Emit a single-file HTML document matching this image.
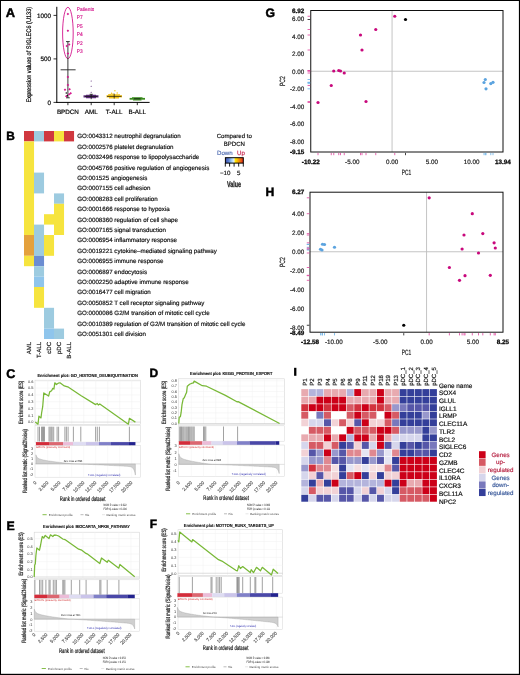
<!DOCTYPE html>
<html><head><meta charset="utf-8"><title>Figure</title>
<style>html,body{margin:0;padding:0;background:#fff;overflow:hidden}svg{display:block}
text{font-family:"Liberation Sans", sans-serif;text-rendering:geometricPrecision}svg{will-change:transform}</style></head>
<body><svg width="520" height="675" viewBox="0 0 520 675" font-family="Liberation Sans, sans-serif">
<rect x="0" y="0" width="520" height="675" fill="#000"/>
<rect x="1" y="1" width="517.9" height="672.8" fill="#fff"/>
<text x="5.80" y="16.60" font-size="12.9" text-anchor="start" fill="#000" font-weight="bold" stroke="#000" stroke-width="0.45">A</text>
<line x1="56.8" y1="6.8" x2="56.8" y2="102.9" stroke="#000" stroke-width="1"/>
<line x1="56.3" y1="102.4" x2="149.6" y2="102.4" stroke="#000" stroke-width="1"/>
<line x1="53.5" y1="15.40" x2="56.8" y2="15.40" stroke="#000" stroke-width="0.8"/>
<text x="51.00" y="17.60" font-size="6.3" text-anchor="end" fill="#000" stroke="#000" stroke-width="0.176">1000</text>
<line x1="53.5" y1="58.90" x2="56.8" y2="58.90" stroke="#000" stroke-width="0.8"/>
<text x="51.00" y="61.10" font-size="6.3" text-anchor="end" fill="#000" stroke="#000" stroke-width="0.176">500</text>
<line x1="53.5" y1="102.40" x2="56.8" y2="102.40" stroke="#000" stroke-width="0.8"/>
<text x="51.00" y="104.60" font-size="6.3" text-anchor="end" fill="#000" stroke="#000" stroke-width="0.176">0</text>
<line x1="67.9" y1="102.4" x2="67.9" y2="105.2" stroke="#000" stroke-width="0.8"/>
<line x1="91.2" y1="102.4" x2="91.2" y2="105.2" stroke="#000" stroke-width="0.8"/>
<line x1="114.2" y1="102.4" x2="114.2" y2="105.2" stroke="#000" stroke-width="0.8"/>
<line x1="137.3" y1="102.4" x2="137.3" y2="105.2" stroke="#000" stroke-width="0.8"/>
<text x="67.90" y="113.60" font-size="6.3" text-anchor="middle" fill="#000" stroke="#000" stroke-width="0.176">BPDCN</text>
<text x="91.20" y="113.60" font-size="6.3" text-anchor="middle" fill="#000" stroke="#000" stroke-width="0.176">AML</text>
<text x="114.20" y="113.60" font-size="6.3" text-anchor="middle" fill="#000" stroke="#000" stroke-width="0.176">T-ALL</text>
<text x="137.30" y="113.60" font-size="6.3" text-anchor="middle" fill="#000" stroke="#000" stroke-width="0.176">B-ALL</text>
<text x="30.80" y="54.60" font-size="6.6" text-anchor="middle" fill="#000" stroke="#000" stroke-width="0.185" transform="rotate(-90 30.80 54.60)" textLength="95.6" lengthAdjust="spacingAndGlyphs">Expression values of SIGLEC6 (U133)</text>
<ellipse cx="67.9" cy="33.0" rx="5.3" ry="25.7" fill="none" stroke="#d4148c" stroke-width="0.9"/>
<line x1="67.9" y1="41.6" x2="67.9" y2="97.8" stroke="#222" stroke-width="0.9"/>
<line x1="66" y1="41.6" x2="69.8" y2="41.6" stroke="#222" stroke-width="0.9"/>
<line x1="66" y1="97.8" x2="69.8" y2="97.8" stroke="#222" stroke-width="0.9"/>
<line x1="60.6" y1="69.8" x2="75.6" y2="69.8" stroke="#222" stroke-width="0.9"/>
<rect x="67.00" y="13.00" width="1.8" height="1.8" fill="#d4148c" transform="rotate(45 67.9 13.9)"/>
<rect x="67.00" y="29.80" width="1.8" height="1.8" fill="#d4148c" transform="rotate(45 67.9 30.7)"/>
<rect x="65.90" y="45.10" width="1.8" height="1.8" fill="#d4148c" transform="rotate(45 66.8 46)"/>
<rect x="68.30" y="43.50" width="1.8" height="1.8" fill="#d4148c" transform="rotate(45 69.2 44.4)"/>
<rect x="67.00" y="52.60" width="1.8" height="1.8" fill="#d4148c" transform="rotate(45 67.9 53.5)"/>
<rect x="67.00" y="76.10" width="1.8" height="1.8" fill="#d4148c" transform="rotate(45 67.9 77)"/>
<rect x="67.00" y="84.20" width="1.8" height="1.8" fill="#d4148c" transform="rotate(45 67.9 85.1)"/>
<rect x="64.10" y="88.80" width="1.8" height="1.8" fill="#d4148c" transform="rotate(45 65 89.7)"/>
<rect x="68.70" y="88.30" width="1.8" height="1.8" fill="#d4148c" transform="rotate(45 69.6 89.2)"/>
<rect x="69.80" y="92.40" width="1.8" height="1.8" fill="#d4148c" transform="rotate(45 70.7 93.3)"/>
<rect x="68.30" y="93.30" width="1.8" height="1.8" fill="#d4148c" transform="rotate(45 69.2 94.2)"/>
<rect x="65.40" y="95.30" width="1.8" height="1.8" fill="#d4148c" transform="rotate(45 66.3 96.2)"/>
<circle cx="66.3" cy="93.0" r="0.8" fill="#111"/>
<circle cx="67.4" cy="95.6" r="0.8" fill="#111"/>
<text x="76.80" y="10.80" font-size="5.3" text-anchor="start" fill="#d4148c" stroke="#d4148c" stroke-width="0.148" textLength="17.43" lengthAdjust="spacingAndGlyphs">Patients</text>
<text x="76.80" y="19.25" font-size="5.3" text-anchor="start" fill="#d4148c" stroke="#d4148c" stroke-width="0.148" textLength="5.9" lengthAdjust="spacingAndGlyphs">P7</text>
<text x="76.80" y="27.70" font-size="5.3" text-anchor="start" fill="#d4148c" stroke="#d4148c" stroke-width="0.148" textLength="5.9" lengthAdjust="spacingAndGlyphs">P5</text>
<text x="76.80" y="36.15" font-size="5.3" text-anchor="start" fill="#d4148c" stroke="#d4148c" stroke-width="0.148" textLength="5.9" lengthAdjust="spacingAndGlyphs">P4</text>
<text x="76.80" y="44.60" font-size="5.3" text-anchor="start" fill="#d4148c" stroke="#d4148c" stroke-width="0.148" textLength="5.9" lengthAdjust="spacingAndGlyphs">P2</text>
<text x="76.80" y="53.05" font-size="5.3" text-anchor="start" fill="#d4148c" stroke="#d4148c" stroke-width="0.148" textLength="5.9" lengthAdjust="spacingAndGlyphs">P3</text>
<circle cx="91.2" cy="81.0" r="0.55" fill="#5b2a78"/>
<circle cx="91.2" cy="86.2" r="0.55" fill="#5b2a78"/>
<circle cx="91.2" cy="92.2" r="0.55" fill="#5b2a78"/>
<path d="M83.5 96.4 L98.5 96.4" stroke="#5b2a78" stroke-width="2.2"/>
<path d="M86 95.3 L96 95.3 M86 97.6 L96 97.6" stroke="#5b2a78" stroke-width="1.2"/>
<line x1="91.2" y1="94.3" x2="91.2" y2="99.2" stroke="#111" stroke-width="0.8"/>
<line x1="89.6" y1="94.3" x2="92.8" y2="94.3" stroke="#111" stroke-width="0.8"/>
<line x1="85" y1="96.4" x2="97.5" y2="96.4" stroke="#111" stroke-width="0.8"/>
<path d="M106.5 96.3 L122 96.3" stroke="#f2c21a" stroke-width="2.2"/>
<path d="M108 95 L120 95 M109 97.8 L119 97.8" stroke="#f2c21a" stroke-width="1.4"/>
<circle cx="114.9" cy="90.8" r="0.7" fill="#f2c21a"/>
<circle cx="111.5" cy="93.3" r="0.7" fill="#f2c21a"/>
<circle cx="117.2" cy="93.0" r="0.7" fill="#f2c21a"/>
<circle cx="113" cy="94" r="0.7" fill="#f2c21a"/>
<circle cx="110" cy="94.5" r="0.7" fill="#f2c21a"/>
<line x1="107" y1="96.4" x2="121.5" y2="96.4" stroke="#111" stroke-width="0.7"/>
<line x1="114.2" y1="93.6" x2="114.2" y2="98.6" stroke="#111" stroke-width="0.7"/>
<path d="M129.6 98.8 L145 98.8" stroke="#3b8c1e" stroke-width="1.8"/>
<path d="M132 97.8 L142.5 97.8 M133 99.8 L141.5 99.8" stroke="#3b8c1e" stroke-width="1.2"/>
<line x1="134" y1="98.8" x2="140.5" y2="98.8" stroke="#111" stroke-width="0.8"/>
<text x="6.30" y="140.10" font-size="11.9" text-anchor="start" fill="#000" font-weight="bold" stroke="#000" stroke-width="0.45">B</text>
<rect x="24.00" y="131.00" width="10.05" height="10.40" fill="#d0383f"/>
<rect x="24.00" y="141.40" width="10.05" height="93.60" fill="#f6e43e"/>
<rect x="24.00" y="235.00" width="10.05" height="20.80" fill="#e4a13c"/>
<rect x="24.00" y="255.80" width="10.05" height="10.40" fill="#f6e43e"/>
<rect x="34.00" y="131.00" width="10.05" height="10.40" fill="#9dcbe0"/>
<rect x="34.00" y="172.60" width="10.05" height="20.80" fill="#9dcbe0"/>
<rect x="34.00" y="224.60" width="10.05" height="31.20" fill="#9dcbe0"/>
<rect x="34.00" y="255.80" width="10.05" height="10.40" fill="#6b8dd2"/>
<rect x="34.00" y="266.20" width="10.05" height="10.40" fill="#9dcbe0"/>
<rect x="34.00" y="276.60" width="10.05" height="10.40" fill="#8fc5ec"/>
<rect x="34.00" y="287.00" width="10.05" height="20.80" fill="#f6e43e"/>
<rect x="44.00" y="131.00" width="10.05" height="10.40" fill="#d0383f"/>
<rect x="44.00" y="214.20" width="10.05" height="10.40" fill="#f6e43e"/>
<rect x="44.00" y="235.00" width="10.05" height="20.80" fill="#f6e43e"/>
<rect x="44.00" y="307.80" width="10.05" height="20.80" fill="#9dcbe0"/>
<rect x="44.00" y="328.60" width="10.05" height="10.40" fill="#8fc5ec"/>
<rect x="54.00" y="131.00" width="10.05" height="10.40" fill="#f6e43e"/>
<rect x="54.00" y="193.40" width="10.05" height="10.40" fill="#9dcbe0"/>
<rect x="54.00" y="203.80" width="10.05" height="31.20" fill="#f6e43e"/>
<rect x="54.00" y="328.60" width="10.05" height="10.40" fill="#9dcbe0"/>
<rect x="64.00" y="131.00" width="10.05" height="10.40" fill="#d0383f"/>
<text x="77.20" y="138.40" font-size="6.2" text-anchor="start" fill="#111" stroke="#111" stroke-width="0.174">GO:0043312 neutrophil degranulation</text>
<text x="77.20" y="148.80" font-size="6.2" text-anchor="start" fill="#111" stroke="#111" stroke-width="0.174">GO:0002576 platelet degranulation</text>
<text x="77.20" y="159.20" font-size="6.2" text-anchor="start" fill="#111" stroke="#111" stroke-width="0.174">GO:0032496 response to lipopolysaccharide</text>
<text x="77.20" y="169.60" font-size="6.2" text-anchor="start" fill="#111" stroke="#111" stroke-width="0.174">GO:0045766 positive regulation of angiogenesis</text>
<text x="77.20" y="180.00" font-size="6.2" text-anchor="start" fill="#111" stroke="#111" stroke-width="0.174">GO:001525 angiogenesis</text>
<text x="77.20" y="190.40" font-size="6.2" text-anchor="start" fill="#111" stroke="#111" stroke-width="0.174">GO:0007155 cell adhesion</text>
<text x="77.20" y="200.80" font-size="6.2" text-anchor="start" fill="#111" stroke="#111" stroke-width="0.174">GO:0008283 cell proliferation</text>
<text x="77.20" y="211.20" font-size="6.2" text-anchor="start" fill="#111" stroke="#111" stroke-width="0.174">GO:0001666 response to hypoxia</text>
<text x="77.20" y="221.60" font-size="6.2" text-anchor="start" fill="#111" stroke="#111" stroke-width="0.174">GO:0008360 regulation of cell shape</text>
<text x="77.20" y="232.00" font-size="6.2" text-anchor="start" fill="#111" stroke="#111" stroke-width="0.174">GO:0007165 signal transduction</text>
<text x="77.20" y="242.40" font-size="6.2" text-anchor="start" fill="#111" stroke="#111" stroke-width="0.174">GO:0006954 inflammatory response</text>
<text x="77.20" y="252.80" font-size="6.2" text-anchor="start" fill="#111" stroke="#111" stroke-width="0.174">GO:0019221 cytokine–mediated signaling pathway</text>
<text x="77.20" y="263.20" font-size="6.2" text-anchor="start" fill="#111" stroke="#111" stroke-width="0.174">GO:0006955 immune response</text>
<text x="77.20" y="273.60" font-size="6.2" text-anchor="start" fill="#111" stroke="#111" stroke-width="0.174">GO:0006897 endocytosis</text>
<text x="77.20" y="284.00" font-size="6.2" text-anchor="start" fill="#111" stroke="#111" stroke-width="0.174">GO:0002250 adaptive immune response</text>
<text x="77.20" y="294.40" font-size="6.2" text-anchor="start" fill="#111" stroke="#111" stroke-width="0.174">GO:0016477 cell migration</text>
<text x="77.20" y="304.80" font-size="6.2" text-anchor="start" fill="#111" stroke="#111" stroke-width="0.174">GO:0050852 T cell receptor signaling pathway</text>
<text x="77.20" y="315.20" font-size="6.2" text-anchor="start" fill="#111" stroke="#111" stroke-width="0.174">GO:0000086 G2/M transition of mitotic cell cycle</text>
<text x="77.20" y="325.60" font-size="6.2" text-anchor="start" fill="#111" stroke="#111" stroke-width="0.174">GO:0010389 regulation of G2/M transition of mitotic cell cycle</text>
<text x="77.20" y="336.00" font-size="6.2" text-anchor="start" fill="#111" stroke="#111" stroke-width="0.174">GO:0051301 cell division</text>
<text x="31.00" y="342.00" font-size="6.0" text-anchor="end" fill="#111" stroke="#111" stroke-width="0.168" transform="rotate(-90 31.00 342.00)">AML</text>
<text x="41.00" y="342.00" font-size="6.0" text-anchor="end" fill="#111" stroke="#111" stroke-width="0.168" transform="rotate(-90 41.00 342.00)">T-ALL</text>
<text x="51.00" y="342.00" font-size="6.0" text-anchor="end" fill="#111" stroke="#111" stroke-width="0.168" transform="rotate(-90 51.00 342.00)">cDC</text>
<text x="61.00" y="342.00" font-size="6.0" text-anchor="end" fill="#111" stroke="#111" stroke-width="0.168" transform="rotate(-90 61.00 342.00)">pDC</text>
<text x="71.00" y="342.00" font-size="6.0" text-anchor="end" fill="#111" stroke="#111" stroke-width="0.168" transform="rotate(-90 71.00 342.00)">B-ALL</text>
<text x="234.30" y="138.30" font-size="6.1" text-anchor="middle" fill="#111" stroke="#111" stroke-width="0.171">Compared to</text>
<text x="234.30" y="145.90" font-size="6.1" text-anchor="middle" fill="#111" stroke="#111" stroke-width="0.171">BPDCN</text>
<text x="217.00" y="154.50" font-size="6.1" text-anchor="start" fill="#5470b4" stroke="#5470b4" stroke-width="0.171">Down</text>
<text x="237.00" y="154.50" font-size="6.1" text-anchor="start" fill="#c82850" stroke="#c82850" stroke-width="0.171">Up</text>
<defs><linearGradient id="cbg" x1="0" x2="1" y1="0" y2="0"><stop offset="0" stop-color="#3a48a8"/><stop offset="0.18" stop-color="#5a80d0"/><stop offset="0.35" stop-color="#9fd0f4"/><stop offset="0.48" stop-color="#e8eef4"/><stop offset="0.55" stop-color="#ffe800"/><stop offset="0.72" stop-color="#f4a800"/><stop offset="0.9" stop-color="#e85018"/><stop offset="1" stop-color="#d02010"/></linearGradient></defs>
<rect x="225.4" y="157.7" width="17.9" height="5.4" fill="url(#cbg)" stroke="#000" stroke-width="1"/>
<line x1="225.3" y1="163" x2="225.3" y2="166.6" stroke="#000" stroke-width="0.9"/>
<line x1="229.6" y1="163" x2="229.6" y2="166.6" stroke="#000" stroke-width="0.9"/>
<line x1="234.1" y1="163" x2="234.1" y2="166.6" stroke="#000" stroke-width="0.9"/>
<line x1="238.7" y1="163" x2="238.7" y2="166.6" stroke="#000" stroke-width="0.9"/>
<line x1="243.3" y1="163" x2="243.3" y2="166.6" stroke="#000" stroke-width="0.9"/>
<text x="225.20" y="175.20" font-size="6.2" text-anchor="middle" fill="#111" stroke="#111" stroke-width="0.174">−10</text>
<text x="238.70" y="175.20" font-size="6.2" text-anchor="middle" fill="#111" stroke="#111" stroke-width="0.174">5</text>
<text x="234.00" y="186.80" font-size="8.3" text-anchor="middle" fill="#222" font-weight="bold" textLength="14" lengthAdjust="spacingAndGlyphs" stroke="#222" stroke-width="0.3">Value</text>
<text x="265.60" y="17.00" font-size="12.2" text-anchor="start" fill="#000" font-weight="bold" stroke="#000" stroke-width="0.45">G</text>
<line x1="310.75" y1="71.25" x2="503" y2="71.25" stroke="#bdbdbd" stroke-width="0.9"/>
<line x1="392.07" y1="10.5" x2="392.07" y2="152" stroke="#bdbdbd" stroke-width="0.9"/>
<rect x="310.75" y="10.5" width="192.25" height="141.5" fill="none" stroke="#111" stroke-width="1"/>
<text x="304.30" y="13.00" font-size="6.3" text-anchor="end" fill="#1a1a1a" font-weight="bold" stroke="#000" stroke-width="0.3">6.92</text>
<text x="304.30" y="21.05" font-size="6.3" text-anchor="end" fill="#1a1a1a" stroke="#1a1a1a" stroke-width="0.176">6.00</text>
<text x="304.30" y="38.55" font-size="6.3" text-anchor="end" fill="#1a1a1a" stroke="#1a1a1a" stroke-width="0.176">4.00</text>
<text x="304.30" y="56.05" font-size="6.3" text-anchor="end" fill="#1a1a1a" stroke="#1a1a1a" stroke-width="0.176">2.00</text>
<text x="304.30" y="73.55" font-size="6.3" text-anchor="end" fill="#1a1a1a" stroke="#1a1a1a" stroke-width="0.176">0.00</text>
<text x="304.30" y="91.05" font-size="6.3" text-anchor="end" fill="#1a1a1a" stroke="#1a1a1a" stroke-width="0.176">-2.00</text>
<text x="304.30" y="108.55" font-size="6.3" text-anchor="end" fill="#1a1a1a" stroke="#1a1a1a" stroke-width="0.176">-4.00</text>
<text x="304.30" y="126.05" font-size="6.3" text-anchor="end" fill="#1a1a1a" stroke="#1a1a1a" stroke-width="0.176">-6.00</text>
<text x="304.30" y="143.55" font-size="6.3" text-anchor="end" fill="#1a1a1a" stroke="#1a1a1a" stroke-width="0.176">-8.00</text>
<text x="304.30" y="153.61" font-size="6.3" text-anchor="end" fill="#1a1a1a" font-weight="bold" stroke="#000" stroke-width="0.3">-9.15</text>
<text x="310.75" y="163.80" font-size="6.3" text-anchor="middle" fill="#1a1a1a" font-weight="bold" stroke="#000" stroke-width="0.3">-10.22</text>
<text x="352.29" y="163.80" font-size="6.3" text-anchor="middle" fill="#1a1a1a" stroke="#1a1a1a" stroke-width="0.176">-5.00</text>
<text x="392.07" y="163.80" font-size="6.3" text-anchor="middle" fill="#1a1a1a" stroke="#1a1a1a" stroke-width="0.176">0.00</text>
<text x="431.86" y="163.80" font-size="6.3" text-anchor="middle" fill="#1a1a1a" stroke="#1a1a1a" stroke-width="0.176">5.00</text>
<text x="471.64" y="163.80" font-size="6.3" text-anchor="middle" fill="#1a1a1a" stroke="#1a1a1a" stroke-width="0.176">10.00</text>
<text x="502.99" y="163.80" font-size="6.3" text-anchor="middle" fill="#1a1a1a" font-weight="bold" stroke="#000" stroke-width="0.3">13.94</text>
<line x1="375.75" y1="152.90" x2="375.75" y2="155.20" stroke="#e0409c" stroke-width="0.8"/>
<line x1="307.55" y1="29.50" x2="310.15" y2="29.50" stroke="#e0409c" stroke-width="0.8"/>
<line x1="360.50" y1="152.90" x2="360.50" y2="155.20" stroke="#e0409c" stroke-width="0.8"/>
<line x1="307.55" y1="35.00" x2="310.15" y2="35.00" stroke="#e0409c" stroke-width="0.8"/>
<line x1="362.00" y1="152.90" x2="362.00" y2="155.20" stroke="#e0409c" stroke-width="0.8"/>
<line x1="307.55" y1="50.00" x2="310.15" y2="50.00" stroke="#e0409c" stroke-width="0.8"/>
<line x1="333.75" y1="152.90" x2="333.75" y2="155.20" stroke="#e0409c" stroke-width="0.8"/>
<line x1="307.55" y1="71.00" x2="310.15" y2="71.00" stroke="#e0409c" stroke-width="0.8"/>
<line x1="338.75" y1="152.90" x2="338.75" y2="155.20" stroke="#e0409c" stroke-width="0.8"/>
<line x1="307.55" y1="70.50" x2="310.15" y2="70.50" stroke="#e0409c" stroke-width="0.8"/>
<line x1="340.50" y1="152.90" x2="340.50" y2="155.20" stroke="#e0409c" stroke-width="0.8"/>
<line x1="307.55" y1="71.00" x2="310.15" y2="71.00" stroke="#e0409c" stroke-width="0.8"/>
<line x1="344.25" y1="152.90" x2="344.25" y2="155.20" stroke="#e0409c" stroke-width="0.8"/>
<line x1="307.55" y1="73.00" x2="310.15" y2="73.00" stroke="#e0409c" stroke-width="0.8"/>
<line x1="331.25" y1="152.90" x2="331.25" y2="155.20" stroke="#e0409c" stroke-width="0.8"/>
<line x1="307.55" y1="85.50" x2="310.15" y2="85.50" stroke="#e0409c" stroke-width="0.8"/>
<line x1="318.00" y1="152.90" x2="318.00" y2="155.20" stroke="#e0409c" stroke-width="0.8"/>
<line x1="307.55" y1="102.50" x2="310.15" y2="102.50" stroke="#e0409c" stroke-width="0.8"/>
<line x1="366.00" y1="152.90" x2="366.00" y2="155.20" stroke="#e0409c" stroke-width="0.8"/>
<line x1="307.55" y1="101.50" x2="310.15" y2="101.50" stroke="#e0409c" stroke-width="0.8"/>
<line x1="394.75" y1="152.90" x2="394.75" y2="155.20" stroke="#e0409c" stroke-width="0.8"/>
<line x1="307.55" y1="16.25" x2="310.15" y2="16.25" stroke="#e0409c" stroke-width="0.8"/>
<line x1="405.50" y1="152.90" x2="405.50" y2="155.20" stroke="#111" stroke-width="0.8"/>
<line x1="307.55" y1="19.50" x2="310.15" y2="19.50" stroke="#111" stroke-width="0.8"/>
<line x1="485.30" y1="152.90" x2="485.30" y2="155.20" stroke="#64aee6" stroke-width="0.8"/>
<line x1="307.55" y1="79.50" x2="310.15" y2="79.50" stroke="#64aee6" stroke-width="0.8"/>
<line x1="484.00" y1="152.90" x2="484.00" y2="155.20" stroke="#64aee6" stroke-width="0.8"/>
<line x1="307.55" y1="82.50" x2="310.15" y2="82.50" stroke="#64aee6" stroke-width="0.8"/>
<line x1="490.80" y1="152.90" x2="490.80" y2="155.20" stroke="#64aee6" stroke-width="0.8"/>
<line x1="307.55" y1="83.60" x2="310.15" y2="83.60" stroke="#64aee6" stroke-width="0.8"/>
<line x1="493.00" y1="152.90" x2="493.00" y2="155.20" stroke="#64aee6" stroke-width="0.8"/>
<line x1="307.55" y1="82.30" x2="310.15" y2="82.30" stroke="#64aee6" stroke-width="0.8"/>
<line x1="486.00" y1="152.90" x2="486.00" y2="155.20" stroke="#64aee6" stroke-width="0.8"/>
<line x1="307.55" y1="88.80" x2="310.15" y2="88.80" stroke="#64aee6" stroke-width="0.8"/>
<circle cx="375.75" cy="29.50" r="1.6" fill="#c8087c"/>
<circle cx="360.50" cy="35.00" r="1.6" fill="#c8087c"/>
<circle cx="362.00" cy="50.00" r="1.6" fill="#c8087c"/>
<circle cx="333.75" cy="71.00" r="1.6" fill="#c8087c"/>
<circle cx="338.75" cy="70.50" r="1.6" fill="#c8087c"/>
<circle cx="340.50" cy="71.00" r="1.6" fill="#c8087c"/>
<circle cx="344.25" cy="73.00" r="1.6" fill="#c8087c"/>
<circle cx="331.25" cy="85.50" r="1.6" fill="#c8087c"/>
<circle cx="318.00" cy="102.50" r="1.6" fill="#c8087c"/>
<circle cx="366.00" cy="101.50" r="1.6" fill="#c8087c"/>
<circle cx="394.75" cy="16.25" r="1.6" fill="#c8087c"/>
<circle cx="405.50" cy="19.50" r="1.6" fill="#000"/>
<circle cx="485.30" cy="79.50" r="1.6" fill="#5ba3df"/>
<circle cx="484.00" cy="82.50" r="1.6" fill="#5ba3df"/>
<circle cx="490.80" cy="83.60" r="1.6" fill="#5ba3df"/>
<circle cx="493.00" cy="82.30" r="1.6" fill="#5ba3df"/>
<circle cx="486.00" cy="88.80" r="1.6" fill="#5ba3df"/>
<text x="285.20" y="81.20" font-size="7.6" text-anchor="middle" fill="#1a1a1a" stroke="#1a1a1a" stroke-width="0.213" transform="rotate(-90 285.20 81.20)" textLength="9.8" lengthAdjust="spacingAndGlyphs">PC2</text>
<text x="406.40" y="175.10" font-size="7.6" text-anchor="middle" fill="#1a1a1a" stroke="#1a1a1a" stroke-width="0.213" textLength="9.5" lengthAdjust="spacingAndGlyphs">PC1</text>
<text x="265.60" y="196.30" font-size="12.2" text-anchor="start" fill="#000" font-weight="bold" stroke="#000" stroke-width="0.45">H</text>
<line x1="310" y1="251.75" x2="503" y2="251.75" stroke="#bdbdbd" stroke-width="0.9"/>
<line x1="426.55" y1="192.2" x2="426.55" y2="332.2" stroke="#bdbdbd" stroke-width="0.9"/>
<rect x="310" y="192.2" width="193" height="140.0" fill="none" stroke="#111" stroke-width="1"/>
<text x="304.30" y="194.49" font-size="6.3" text-anchor="end" fill="#1a1a1a" font-weight="bold" stroke="#000" stroke-width="0.3">6.27</text>
<text x="304.30" y="216.05" font-size="6.3" text-anchor="end" fill="#1a1a1a" stroke="#1a1a1a" stroke-width="0.176">4.00</text>
<text x="304.30" y="235.05" font-size="6.3" text-anchor="end" fill="#1a1a1a" stroke="#1a1a1a" stroke-width="0.176">2.00</text>
<text x="304.30" y="254.05" font-size="6.3" text-anchor="end" fill="#1a1a1a" stroke="#1a1a1a" stroke-width="0.176">0.00</text>
<text x="304.30" y="273.05" font-size="6.3" text-anchor="end" fill="#1a1a1a" stroke="#1a1a1a" stroke-width="0.176">-2.00</text>
<text x="304.30" y="292.05" font-size="6.3" text-anchor="end" fill="#1a1a1a" stroke="#1a1a1a" stroke-width="0.176">-4.00</text>
<text x="304.30" y="311.05" font-size="6.3" text-anchor="end" fill="#1a1a1a" stroke="#1a1a1a" stroke-width="0.176">-6.00</text>
<text x="304.30" y="330.05" font-size="6.3" text-anchor="end" fill="#1a1a1a" stroke="#1a1a1a" stroke-width="0.176">-8.00</text>
<text x="304.30" y="334.70" font-size="6.3" text-anchor="end" fill="#1a1a1a" font-weight="bold" stroke="#000" stroke-width="0.3">-8.49</text>
<text x="310.00" y="343.90" font-size="6.3" text-anchor="middle" fill="#1a1a1a" font-weight="bold" stroke="#000" stroke-width="0.3">-12.58</text>
<text x="333.90" y="343.90" font-size="6.3" text-anchor="middle" fill="#1a1a1a" stroke="#1a1a1a" stroke-width="0.176">-10.00</text>
<text x="380.23" y="343.90" font-size="6.3" text-anchor="middle" fill="#1a1a1a" stroke="#1a1a1a" stroke-width="0.176">-5.00</text>
<text x="426.55" y="343.90" font-size="6.3" text-anchor="middle" fill="#1a1a1a" stroke="#1a1a1a" stroke-width="0.176">0.00</text>
<text x="472.88" y="343.90" font-size="6.3" text-anchor="middle" fill="#1a1a1a" stroke="#1a1a1a" stroke-width="0.176">5.00</text>
<text x="502.99" y="343.90" font-size="6.3" text-anchor="middle" fill="#1a1a1a" font-weight="bold" stroke="#000" stroke-width="0.3">8.25</text>
<line x1="322.50" y1="333.10" x2="322.50" y2="335.40" stroke="#64aee6" stroke-width="0.8"/>
<line x1="306.80" y1="244.25" x2="309.40" y2="244.25" stroke="#64aee6" stroke-width="0.8"/>
<line x1="324.50" y1="333.10" x2="324.50" y2="335.40" stroke="#64aee6" stroke-width="0.8"/>
<line x1="306.80" y1="244.50" x2="309.40" y2="244.50" stroke="#64aee6" stroke-width="0.8"/>
<line x1="320.50" y1="333.10" x2="320.50" y2="335.40" stroke="#64aee6" stroke-width="0.8"/>
<line x1="306.80" y1="249.25" x2="309.40" y2="249.25" stroke="#64aee6" stroke-width="0.8"/>
<line x1="322.00" y1="333.10" x2="322.00" y2="335.40" stroke="#64aee6" stroke-width="0.8"/>
<line x1="306.80" y1="250.00" x2="309.40" y2="250.00" stroke="#64aee6" stroke-width="0.8"/>
<line x1="334.50" y1="333.10" x2="334.50" y2="335.40" stroke="#64aee6" stroke-width="0.8"/>
<line x1="306.80" y1="247.25" x2="309.40" y2="247.25" stroke="#64aee6" stroke-width="0.8"/>
<line x1="429.20" y1="333.10" x2="429.20" y2="335.40" stroke="#e0409c" stroke-width="0.8"/>
<line x1="306.80" y1="197.80" x2="309.40" y2="197.80" stroke="#e0409c" stroke-width="0.8"/>
<line x1="472.30" y1="333.10" x2="472.30" y2="335.40" stroke="#e0409c" stroke-width="0.8"/>
<line x1="306.80" y1="213.70" x2="309.40" y2="213.70" stroke="#e0409c" stroke-width="0.8"/>
<line x1="464.00" y1="333.10" x2="464.00" y2="335.40" stroke="#e0409c" stroke-width="0.8"/>
<line x1="306.80" y1="235.00" x2="309.40" y2="235.00" stroke="#e0409c" stroke-width="0.8"/>
<line x1="482.80" y1="333.10" x2="482.80" y2="335.40" stroke="#e0409c" stroke-width="0.8"/>
<line x1="306.80" y1="233.60" x2="309.40" y2="233.60" stroke="#e0409c" stroke-width="0.8"/>
<line x1="494.10" y1="333.10" x2="494.10" y2="335.40" stroke="#e0409c" stroke-width="0.8"/>
<line x1="306.80" y1="242.80" x2="309.40" y2="242.80" stroke="#e0409c" stroke-width="0.8"/>
<line x1="495.30" y1="333.10" x2="495.30" y2="335.40" stroke="#e0409c" stroke-width="0.8"/>
<line x1="306.80" y1="248.00" x2="309.40" y2="248.00" stroke="#e0409c" stroke-width="0.8"/>
<line x1="462.10" y1="333.10" x2="462.10" y2="335.40" stroke="#e0409c" stroke-width="0.8"/>
<line x1="306.80" y1="249.00" x2="309.40" y2="249.00" stroke="#e0409c" stroke-width="0.8"/>
<line x1="478.50" y1="333.10" x2="478.50" y2="335.40" stroke="#e0409c" stroke-width="0.8"/>
<line x1="306.80" y1="253.00" x2="309.40" y2="253.00" stroke="#e0409c" stroke-width="0.8"/>
<line x1="449.40" y1="333.10" x2="449.40" y2="335.40" stroke="#e0409c" stroke-width="0.8"/>
<line x1="306.80" y1="267.50" x2="309.40" y2="267.50" stroke="#e0409c" stroke-width="0.8"/>
<line x1="465.00" y1="333.10" x2="465.00" y2="335.40" stroke="#e0409c" stroke-width="0.8"/>
<line x1="306.80" y1="275.70" x2="309.40" y2="275.70" stroke="#e0409c" stroke-width="0.8"/>
<line x1="459.50" y1="333.10" x2="459.50" y2="335.40" stroke="#e0409c" stroke-width="0.8"/>
<line x1="306.80" y1="280.30" x2="309.40" y2="280.30" stroke="#e0409c" stroke-width="0.8"/>
<line x1="490.30" y1="333.10" x2="490.30" y2="335.40" stroke="#e0409c" stroke-width="0.8"/>
<line x1="306.80" y1="275.30" x2="309.40" y2="275.30" stroke="#e0409c" stroke-width="0.8"/>
<line x1="403.75" y1="333.10" x2="403.75" y2="335.40" stroke="#111" stroke-width="0.8"/>
<line x1="306.80" y1="325.25" x2="309.40" y2="325.25" stroke="#111" stroke-width="0.8"/>
<circle cx="322.50" cy="244.25" r="1.6" fill="#5ba3df"/>
<circle cx="324.50" cy="244.50" r="1.6" fill="#5ba3df"/>
<circle cx="320.50" cy="249.25" r="1.6" fill="#5ba3df"/>
<circle cx="322.00" cy="250.00" r="1.6" fill="#5ba3df"/>
<circle cx="334.50" cy="247.25" r="1.6" fill="#5ba3df"/>
<circle cx="429.20" cy="197.80" r="1.6" fill="#c8087c"/>
<circle cx="472.30" cy="213.70" r="1.6" fill="#c8087c"/>
<circle cx="464.00" cy="235.00" r="1.6" fill="#c8087c"/>
<circle cx="482.80" cy="233.60" r="1.6" fill="#c8087c"/>
<circle cx="494.10" cy="242.80" r="1.6" fill="#c8087c"/>
<circle cx="495.30" cy="248.00" r="1.6" fill="#c8087c"/>
<circle cx="462.10" cy="249.00" r="1.6" fill="#c8087c"/>
<circle cx="478.50" cy="253.00" r="1.6" fill="#c8087c"/>
<circle cx="449.40" cy="267.50" r="1.6" fill="#c8087c"/>
<circle cx="465.00" cy="275.70" r="1.6" fill="#c8087c"/>
<circle cx="459.50" cy="280.30" r="1.6" fill="#c8087c"/>
<circle cx="490.30" cy="275.30" r="1.6" fill="#c8087c"/>
<circle cx="403.75" cy="325.25" r="1.6" fill="#000"/>
<text x="285.20" y="262.10" font-size="7.6" text-anchor="middle" fill="#1a1a1a" stroke="#1a1a1a" stroke-width="0.213" transform="rotate(-90 285.20 262.10)" textLength="9.8" lengthAdjust="spacingAndGlyphs">PC2</text>
<text x="406.40" y="355.20" font-size="7.6" text-anchor="middle" fill="#1a1a1a" stroke="#1a1a1a" stroke-width="0.213" textLength="9.5" lengthAdjust="spacingAndGlyphs">PC1</text>
<rect x="294.1" y="367.8" width="2.3" height="8.0" fill="#000"/>
<rect x="301.30" y="389.10" width="6.97" height="6.95" fill="#e8aab0"/>
<rect x="308.87" y="389.10" width="6.97" height="6.95" fill="#b4b4dc"/>
<rect x="316.43" y="389.10" width="6.97" height="6.95" fill="#b4b4dc"/>
<rect x="324.00" y="389.10" width="6.97" height="6.95" fill="#e8aab0"/>
<rect x="331.57" y="389.10" width="6.97" height="6.95" fill="#e8aab0"/>
<rect x="339.13" y="389.10" width="6.97" height="6.95" fill="#e8aab0"/>
<rect x="346.70" y="389.10" width="6.97" height="6.95" fill="#b4b4dc"/>
<rect x="354.27" y="389.10" width="6.97" height="6.95" fill="#cc0018"/>
<rect x="361.84" y="389.10" width="6.97" height="6.95" fill="#e8aab0"/>
<rect x="369.40" y="389.10" width="6.97" height="6.95" fill="#e8aab0"/>
<rect x="376.97" y="389.10" width="6.97" height="6.95" fill="#cc0018"/>
<rect x="384.54" y="389.10" width="6.97" height="6.95" fill="#e8aab0"/>
<rect x="392.10" y="389.10" width="6.97" height="6.95" fill="#e8aab0"/>
<rect x="399.67" y="389.10" width="6.97" height="6.95" fill="#343f9a"/>
<rect x="407.24" y="389.10" width="6.97" height="6.95" fill="#343f9a"/>
<rect x="414.81" y="389.10" width="6.97" height="6.95" fill="#343f9a"/>
<rect x="422.37" y="389.10" width="6.97" height="6.95" fill="#343f9a"/>
<rect x="429.94" y="389.10" width="6.97" height="6.95" fill="#343f9a"/>
<rect x="301.30" y="396.65" width="6.97" height="6.95" fill="#e8aab0"/>
<rect x="308.87" y="396.65" width="6.97" height="6.95" fill="#e8aab0"/>
<rect x="316.43" y="396.65" width="6.97" height="6.95" fill="#cc0018"/>
<rect x="324.00" y="396.65" width="6.97" height="6.95" fill="#cc0018"/>
<rect x="331.57" y="396.65" width="6.97" height="6.95" fill="#cc0018"/>
<rect x="339.13" y="396.65" width="6.97" height="6.95" fill="#cc0018"/>
<rect x="346.70" y="396.65" width="6.97" height="6.95" fill="#e8aab0"/>
<rect x="354.27" y="396.65" width="6.97" height="6.95" fill="#e8aab0"/>
<rect x="361.84" y="396.65" width="6.97" height="6.95" fill="#e8aab0"/>
<rect x="369.40" y="396.65" width="6.97" height="6.95" fill="#e8aab0"/>
<rect x="376.97" y="396.65" width="6.97" height="6.95" fill="#cc0018"/>
<rect x="384.54" y="396.65" width="6.97" height="6.95" fill="#e8aab0"/>
<rect x="392.10" y="396.65" width="6.97" height="6.95" fill="#e8aab0"/>
<rect x="399.67" y="396.65" width="6.97" height="6.95" fill="#343f9a"/>
<rect x="407.24" y="396.65" width="6.97" height="6.95" fill="#343f9a"/>
<rect x="414.81" y="396.65" width="6.97" height="6.95" fill="#343f9a"/>
<rect x="422.37" y="396.65" width="6.97" height="6.95" fill="#343f9a"/>
<rect x="429.94" y="396.65" width="6.97" height="6.95" fill="#343f9a"/>
<rect x="301.30" y="404.19" width="6.97" height="6.95" fill="#d2323e"/>
<rect x="308.87" y="404.19" width="6.97" height="6.95" fill="#cc0018"/>
<rect x="316.43" y="404.19" width="6.97" height="6.95" fill="#cc0018"/>
<rect x="324.00" y="404.19" width="6.97" height="6.95" fill="#d2323e"/>
<rect x="331.57" y="404.19" width="6.97" height="6.95" fill="#cc0018"/>
<rect x="339.13" y="404.19" width="6.97" height="6.95" fill="#cc0018"/>
<rect x="346.70" y="404.19" width="6.97" height="6.95" fill="#d65a64"/>
<rect x="354.27" y="404.19" width="6.97" height="6.95" fill="#d2323e"/>
<rect x="361.84" y="404.19" width="6.97" height="6.95" fill="#cc0018"/>
<rect x="369.40" y="404.19" width="6.97" height="6.95" fill="#d2323e"/>
<rect x="376.97" y="404.19" width="6.97" height="6.95" fill="#d2323e"/>
<rect x="384.54" y="404.19" width="6.97" height="6.95" fill="#d65a64"/>
<rect x="392.10" y="404.19" width="6.97" height="6.95" fill="#9898cc"/>
<rect x="399.67" y="404.19" width="6.97" height="6.95" fill="#7878bc"/>
<rect x="407.24" y="404.19" width="6.97" height="6.95" fill="#5656a8"/>
<rect x="414.81" y="404.19" width="6.97" height="6.95" fill="#5656a8"/>
<rect x="422.37" y="404.19" width="6.97" height="6.95" fill="#5656a8"/>
<rect x="429.94" y="404.19" width="6.97" height="6.95" fill="#343f9a"/>
<rect x="301.30" y="411.74" width="6.97" height="6.95" fill="#d65a64"/>
<rect x="308.87" y="411.74" width="6.97" height="6.95" fill="#ffffff"/>
<rect x="316.43" y="411.74" width="6.97" height="6.95" fill="#7878bc"/>
<rect x="324.00" y="411.74" width="6.97" height="6.95" fill="#d65a64"/>
<rect x="331.57" y="411.74" width="6.97" height="6.95" fill="#ffffff"/>
<rect x="339.13" y="411.74" width="6.97" height="6.95" fill="#ffffff"/>
<rect x="346.70" y="411.74" width="6.97" height="6.95" fill="#d65a64"/>
<rect x="354.27" y="411.74" width="6.97" height="6.95" fill="#cc0018"/>
<rect x="361.84" y="411.74" width="6.97" height="6.95" fill="#d65a64"/>
<rect x="369.40" y="411.74" width="6.97" height="6.95" fill="#d65a64"/>
<rect x="376.97" y="411.74" width="6.97" height="6.95" fill="#ffffff"/>
<rect x="384.54" y="411.74" width="6.97" height="6.95" fill="#cc0018"/>
<rect x="392.10" y="411.74" width="6.97" height="6.95" fill="#d65a64"/>
<rect x="399.67" y="411.74" width="6.97" height="6.95" fill="#343f9a"/>
<rect x="407.24" y="411.74" width="6.97" height="6.95" fill="#343f9a"/>
<rect x="414.81" y="411.74" width="6.97" height="6.95" fill="#343f9a"/>
<rect x="422.37" y="411.74" width="6.97" height="6.95" fill="#9898cc"/>
<rect x="429.94" y="411.74" width="6.97" height="6.95" fill="#343f9a"/>
<rect x="301.30" y="419.29" width="6.97" height="6.95" fill="#f2d2d6"/>
<rect x="308.87" y="419.29" width="6.97" height="6.95" fill="#d6d6ec"/>
<rect x="316.43" y="419.29" width="6.97" height="6.95" fill="#d6d6ec"/>
<rect x="324.00" y="419.29" width="6.97" height="6.95" fill="#5656a8"/>
<rect x="331.57" y="419.29" width="6.97" height="6.95" fill="#f2d2d6"/>
<rect x="339.13" y="419.29" width="6.97" height="6.95" fill="#d65a64"/>
<rect x="346.70" y="419.29" width="6.97" height="6.95" fill="#f2d2d6"/>
<rect x="354.27" y="419.29" width="6.97" height="6.95" fill="#5656a8"/>
<rect x="361.84" y="419.29" width="6.97" height="6.95" fill="#cc0018"/>
<rect x="369.40" y="419.29" width="6.97" height="6.95" fill="#f2d2d6"/>
<rect x="376.97" y="419.29" width="6.97" height="6.95" fill="#f2d2d6"/>
<rect x="384.54" y="419.29" width="6.97" height="6.95" fill="#d65a64"/>
<rect x="392.10" y="419.29" width="6.97" height="6.95" fill="#7878bc"/>
<rect x="399.67" y="419.29" width="6.97" height="6.95" fill="#343f9a"/>
<rect x="407.24" y="419.29" width="6.97" height="6.95" fill="#343f9a"/>
<rect x="414.81" y="419.29" width="6.97" height="6.95" fill="#343f9a"/>
<rect x="422.37" y="419.29" width="6.97" height="6.95" fill="#343f9a"/>
<rect x="429.94" y="419.29" width="6.97" height="6.95" fill="#343f9a"/>
<rect x="301.30" y="426.84" width="6.97" height="6.95" fill="#ffffff"/>
<rect x="308.87" y="426.84" width="6.97" height="6.95" fill="#d65a64"/>
<rect x="316.43" y="426.84" width="6.97" height="6.95" fill="#d65a64"/>
<rect x="324.00" y="426.84" width="6.97" height="6.95" fill="#d65a64"/>
<rect x="331.57" y="426.84" width="6.97" height="6.95" fill="#ffffff"/>
<rect x="339.13" y="426.84" width="6.97" height="6.95" fill="#ffffff"/>
<rect x="346.70" y="426.84" width="6.97" height="6.95" fill="#cc0018"/>
<rect x="354.27" y="426.84" width="6.97" height="6.95" fill="#d65a64"/>
<rect x="361.84" y="426.84" width="6.97" height="6.95" fill="#d65a64"/>
<rect x="369.40" y="426.84" width="6.97" height="6.95" fill="#d65a64"/>
<rect x="376.97" y="426.84" width="6.97" height="6.95" fill="#cc0018"/>
<rect x="384.54" y="426.84" width="6.97" height="6.95" fill="#cc0018"/>
<rect x="392.10" y="426.84" width="6.97" height="6.95" fill="#d65a64"/>
<rect x="399.67" y="426.84" width="6.97" height="6.95" fill="#9898cc"/>
<rect x="407.24" y="426.84" width="6.97" height="6.95" fill="#9898cc"/>
<rect x="414.81" y="426.84" width="6.97" height="6.95" fill="#9898cc"/>
<rect x="422.37" y="426.84" width="6.97" height="6.95" fill="#343f9a"/>
<rect x="429.94" y="426.84" width="6.97" height="6.95" fill="#9898cc"/>
<rect x="301.30" y="434.38" width="6.97" height="6.95" fill="#e8aab0"/>
<rect x="308.87" y="434.38" width="6.97" height="6.95" fill="#e8aab0"/>
<rect x="316.43" y="434.38" width="6.97" height="6.95" fill="#e8aab0"/>
<rect x="324.00" y="434.38" width="6.97" height="6.95" fill="#cc0018"/>
<rect x="331.57" y="434.38" width="6.97" height="6.95" fill="#e8aab0"/>
<rect x="339.13" y="434.38" width="6.97" height="6.95" fill="#cc0018"/>
<rect x="346.70" y="434.38" width="6.97" height="6.95" fill="#b4b4dc"/>
<rect x="354.27" y="434.38" width="6.97" height="6.95" fill="#cc0018"/>
<rect x="361.84" y="434.38" width="6.97" height="6.95" fill="#cc0018"/>
<rect x="369.40" y="434.38" width="6.97" height="6.95" fill="#e8aab0"/>
<rect x="376.97" y="434.38" width="6.97" height="6.95" fill="#cc0018"/>
<rect x="384.54" y="434.38" width="6.97" height="6.95" fill="#e8aab0"/>
<rect x="392.10" y="434.38" width="6.97" height="6.95" fill="#d6d6ec"/>
<rect x="399.67" y="434.38" width="6.97" height="6.95" fill="#d6d6ec"/>
<rect x="407.24" y="434.38" width="6.97" height="6.95" fill="#d6d6ec"/>
<rect x="414.81" y="434.38" width="6.97" height="6.95" fill="#d6d6ec"/>
<rect x="422.37" y="434.38" width="6.97" height="6.95" fill="#343f9a"/>
<rect x="429.94" y="434.38" width="6.97" height="6.95" fill="#343f9a"/>
<rect x="301.30" y="441.93" width="6.97" height="6.95" fill="#d6d6ec"/>
<rect x="308.87" y="441.93" width="6.97" height="6.95" fill="#d65a64"/>
<rect x="316.43" y="441.93" width="6.97" height="6.95" fill="#d65a64"/>
<rect x="324.00" y="441.93" width="6.97" height="6.95" fill="#f2d2d6"/>
<rect x="331.57" y="441.93" width="6.97" height="6.95" fill="#d65a64"/>
<rect x="339.13" y="441.93" width="6.97" height="6.95" fill="#343f9a"/>
<rect x="346.70" y="441.93" width="6.97" height="6.95" fill="#5656a8"/>
<rect x="354.27" y="441.93" width="6.97" height="6.95" fill="#f2d2d6"/>
<rect x="361.84" y="441.93" width="6.97" height="6.95" fill="#5656a8"/>
<rect x="369.40" y="441.93" width="6.97" height="6.95" fill="#d6d6ec"/>
<rect x="376.97" y="441.93" width="6.97" height="6.95" fill="#cc0018"/>
<rect x="384.54" y="441.93" width="6.97" height="6.95" fill="#5656a8"/>
<rect x="392.10" y="441.93" width="6.97" height="6.95" fill="#d6d6ec"/>
<rect x="399.67" y="441.93" width="6.97" height="6.95" fill="#343f9a"/>
<rect x="407.24" y="441.93" width="6.97" height="6.95" fill="#5656a8"/>
<rect x="414.81" y="441.93" width="6.97" height="6.95" fill="#343f9a"/>
<rect x="422.37" y="441.93" width="6.97" height="6.95" fill="#5656a8"/>
<rect x="429.94" y="441.93" width="6.97" height="6.95" fill="#7878bc"/>
<rect x="301.30" y="449.48" width="6.97" height="6.95" fill="#f2d2d6"/>
<rect x="308.87" y="449.48" width="6.97" height="6.95" fill="#5656a8"/>
<rect x="316.43" y="449.48" width="6.97" height="6.95" fill="#9898cc"/>
<rect x="324.00" y="449.48" width="6.97" height="6.95" fill="#cc0018"/>
<rect x="331.57" y="449.48" width="6.97" height="6.95" fill="#9898cc"/>
<rect x="339.13" y="449.48" width="6.97" height="6.95" fill="#5656a8"/>
<rect x="346.70" y="449.48" width="6.97" height="6.95" fill="#e08890"/>
<rect x="354.27" y="449.48" width="6.97" height="6.95" fill="#e08890"/>
<rect x="361.84" y="449.48" width="6.97" height="6.95" fill="#e4e4f2"/>
<rect x="369.40" y="449.48" width="6.97" height="6.95" fill="#e08890"/>
<rect x="376.97" y="449.48" width="6.97" height="6.95" fill="#9898cc"/>
<rect x="384.54" y="449.48" width="6.97" height="6.95" fill="#e4e4f2"/>
<rect x="392.10" y="449.48" width="6.97" height="6.95" fill="#e08890"/>
<rect x="399.67" y="449.48" width="6.97" height="6.95" fill="#343f9a"/>
<rect x="407.24" y="449.48" width="6.97" height="6.95" fill="#343f9a"/>
<rect x="414.81" y="449.48" width="6.97" height="6.95" fill="#5656a8"/>
<rect x="422.37" y="449.48" width="6.97" height="6.95" fill="#5656a8"/>
<rect x="429.94" y="449.48" width="6.97" height="6.95" fill="#343f9a"/>
<rect x="301.30" y="457.02" width="6.97" height="6.95" fill="#d6d6ec"/>
<rect x="308.87" y="457.02" width="6.97" height="6.95" fill="#9898cc"/>
<rect x="316.43" y="457.02" width="6.97" height="6.95" fill="#9898cc"/>
<rect x="324.00" y="457.02" width="6.97" height="6.95" fill="#e08890"/>
<rect x="331.57" y="457.02" width="6.97" height="6.95" fill="#5656a8"/>
<rect x="339.13" y="457.02" width="6.97" height="6.95" fill="#5656a8"/>
<rect x="346.70" y="457.02" width="6.97" height="6.95" fill="#9898cc"/>
<rect x="354.27" y="457.02" width="6.97" height="6.95" fill="#9898cc"/>
<rect x="361.84" y="457.02" width="6.97" height="6.95" fill="#343f9a"/>
<rect x="369.40" y="457.02" width="6.97" height="6.95" fill="#9898cc"/>
<rect x="376.97" y="457.02" width="6.97" height="6.95" fill="#5656a8"/>
<rect x="384.54" y="457.02" width="6.97" height="6.95" fill="#e4e4f2"/>
<rect x="392.10" y="457.02" width="6.97" height="6.95" fill="#343f9a"/>
<rect x="399.67" y="457.02" width="6.97" height="6.95" fill="#cc0018"/>
<rect x="407.24" y="457.02" width="6.97" height="6.95" fill="#cc0018"/>
<rect x="414.81" y="457.02" width="6.97" height="6.95" fill="#cc0018"/>
<rect x="422.37" y="457.02" width="6.97" height="6.95" fill="#cc0018"/>
<rect x="429.94" y="457.02" width="6.97" height="6.95" fill="#cc0018"/>
<rect x="301.30" y="464.57" width="6.97" height="6.95" fill="#9898cc"/>
<rect x="308.87" y="464.57" width="6.97" height="6.95" fill="#d2323e"/>
<rect x="316.43" y="464.57" width="6.97" height="6.95" fill="#e08890"/>
<rect x="324.00" y="464.57" width="6.97" height="6.95" fill="#e08890"/>
<rect x="331.57" y="464.57" width="6.97" height="6.95" fill="#f6e0e2"/>
<rect x="339.13" y="464.57" width="6.97" height="6.95" fill="#343f9a"/>
<rect x="346.70" y="464.57" width="6.97" height="6.95" fill="#e4e4f2"/>
<rect x="354.27" y="464.57" width="6.97" height="6.95" fill="#f6e0e2"/>
<rect x="361.84" y="464.57" width="6.97" height="6.95" fill="#e4e4f2"/>
<rect x="369.40" y="464.57" width="6.97" height="6.95" fill="#f6e0e2"/>
<rect x="376.97" y="464.57" width="6.97" height="6.95" fill="#f6e0e2"/>
<rect x="384.54" y="464.57" width="6.97" height="6.95" fill="#e08890"/>
<rect x="392.10" y="464.57" width="6.97" height="6.95" fill="#5656a8"/>
<rect x="399.67" y="464.57" width="6.97" height="6.95" fill="#cc0018"/>
<rect x="407.24" y="464.57" width="6.97" height="6.95" fill="#cc0018"/>
<rect x="414.81" y="464.57" width="6.97" height="6.95" fill="#cc0018"/>
<rect x="422.37" y="464.57" width="6.97" height="6.95" fill="#cc0018"/>
<rect x="429.94" y="464.57" width="6.97" height="6.95" fill="#cc0018"/>
<rect x="301.30" y="472.12" width="6.97" height="6.95" fill="#d6d6ec"/>
<rect x="308.87" y="472.12" width="6.97" height="6.95" fill="#f2d2d6"/>
<rect x="316.43" y="472.12" width="6.97" height="6.95" fill="#5656a8"/>
<rect x="324.00" y="472.12" width="6.97" height="6.95" fill="#f2d2d6"/>
<rect x="331.57" y="472.12" width="6.97" height="6.95" fill="#f2d2d6"/>
<rect x="339.13" y="472.12" width="6.97" height="6.95" fill="#343f9a"/>
<rect x="346.70" y="472.12" width="6.97" height="6.95" fill="#d65a64"/>
<rect x="354.27" y="472.12" width="6.97" height="6.95" fill="#cc0018"/>
<rect x="361.84" y="472.12" width="6.97" height="6.95" fill="#343f9a"/>
<rect x="369.40" y="472.12" width="6.97" height="6.95" fill="#f2d2d6"/>
<rect x="376.97" y="472.12" width="6.97" height="6.95" fill="#343f9a"/>
<rect x="384.54" y="472.12" width="6.97" height="6.95" fill="#f2d2d6"/>
<rect x="392.10" y="472.12" width="6.97" height="6.95" fill="#f2d2d6"/>
<rect x="399.67" y="472.12" width="6.97" height="6.95" fill="#cc0018"/>
<rect x="407.24" y="472.12" width="6.97" height="6.95" fill="#cc0018"/>
<rect x="414.81" y="472.12" width="6.97" height="6.95" fill="#cc0018"/>
<rect x="422.37" y="472.12" width="6.97" height="6.95" fill="#cc0018"/>
<rect x="429.94" y="472.12" width="6.97" height="6.95" fill="#cc0018"/>
<rect x="301.30" y="479.66" width="6.97" height="6.95" fill="#b4b4dc"/>
<rect x="308.87" y="479.66" width="6.97" height="6.95" fill="#343f9a"/>
<rect x="316.43" y="479.66" width="6.97" height="6.95" fill="#e8aab0"/>
<rect x="324.00" y="479.66" width="6.97" height="6.95" fill="#343f9a"/>
<rect x="331.57" y="479.66" width="6.97" height="6.95" fill="#cc0018"/>
<rect x="339.13" y="479.66" width="6.97" height="6.95" fill="#b4b4dc"/>
<rect x="346.70" y="479.66" width="6.97" height="6.95" fill="#b4b4dc"/>
<rect x="354.27" y="479.66" width="6.97" height="6.95" fill="#b4b4dc"/>
<rect x="361.84" y="479.66" width="6.97" height="6.95" fill="#b4b4dc"/>
<rect x="369.40" y="479.66" width="6.97" height="6.95" fill="#b4b4dc"/>
<rect x="376.97" y="479.66" width="6.97" height="6.95" fill="#b4b4dc"/>
<rect x="384.54" y="479.66" width="6.97" height="6.95" fill="#cc0018"/>
<rect x="392.10" y="479.66" width="6.97" height="6.95" fill="#343f9a"/>
<rect x="399.67" y="479.66" width="6.97" height="6.95" fill="#cc0018"/>
<rect x="407.24" y="479.66" width="6.97" height="6.95" fill="#e8aab0"/>
<rect x="414.81" y="479.66" width="6.97" height="6.95" fill="#e8aab0"/>
<rect x="422.37" y="479.66" width="6.97" height="6.95" fill="#cc0018"/>
<rect x="429.94" y="479.66" width="6.97" height="6.95" fill="#cc0018"/>
<rect x="301.30" y="487.21" width="6.97" height="6.95" fill="#d6d6ec"/>
<rect x="308.87" y="487.21" width="6.97" height="6.95" fill="#d65a64"/>
<rect x="316.43" y="487.21" width="6.97" height="6.95" fill="#f2d2d6"/>
<rect x="324.00" y="487.21" width="6.97" height="6.95" fill="#f2d2d6"/>
<rect x="331.57" y="487.21" width="6.97" height="6.95" fill="#f2d2d6"/>
<rect x="339.13" y="487.21" width="6.97" height="6.95" fill="#5656a8"/>
<rect x="346.70" y="487.21" width="6.97" height="6.95" fill="#5656a8"/>
<rect x="354.27" y="487.21" width="6.97" height="6.95" fill="#d6d6ec"/>
<rect x="361.84" y="487.21" width="6.97" height="6.95" fill="#f2d2d6"/>
<rect x="369.40" y="487.21" width="6.97" height="6.95" fill="#5656a8"/>
<rect x="376.97" y="487.21" width="6.97" height="6.95" fill="#f2d2d6"/>
<rect x="384.54" y="487.21" width="6.97" height="6.95" fill="#d6d6ec"/>
<rect x="392.10" y="487.21" width="6.97" height="6.95" fill="#343f9a"/>
<rect x="399.67" y="487.21" width="6.97" height="6.95" fill="#d65a64"/>
<rect x="407.24" y="487.21" width="6.97" height="6.95" fill="#d65a64"/>
<rect x="414.81" y="487.21" width="6.97" height="6.95" fill="#d65a64"/>
<rect x="422.37" y="487.21" width="6.97" height="6.95" fill="#cc0018"/>
<rect x="429.94" y="487.21" width="6.97" height="6.95" fill="#cc0018"/>
<rect x="301.30" y="494.76" width="6.97" height="6.95" fill="#343f9a"/>
<rect x="308.87" y="494.76" width="6.97" height="6.95" fill="#d6d6ec"/>
<rect x="316.43" y="494.76" width="6.97" height="6.95" fill="#5656a8"/>
<rect x="324.00" y="494.76" width="6.97" height="6.95" fill="#5656a8"/>
<rect x="331.57" y="494.76" width="6.97" height="6.95" fill="#d6d6ec"/>
<rect x="339.13" y="494.76" width="6.97" height="6.95" fill="#5656a8"/>
<rect x="346.70" y="494.76" width="6.97" height="6.95" fill="#5656a8"/>
<rect x="354.27" y="494.76" width="6.97" height="6.95" fill="#d6d6ec"/>
<rect x="361.84" y="494.76" width="6.97" height="6.95" fill="#5656a8"/>
<rect x="369.40" y="494.76" width="6.97" height="6.95" fill="#d6d6ec"/>
<rect x="376.97" y="494.76" width="6.97" height="6.95" fill="#5656a8"/>
<rect x="384.54" y="494.76" width="6.97" height="6.95" fill="#d6d6ec"/>
<rect x="392.10" y="494.76" width="6.97" height="6.95" fill="#d6d6ec"/>
<rect x="399.67" y="494.76" width="6.97" height="6.95" fill="#d65a64"/>
<rect x="407.24" y="494.76" width="6.97" height="6.95" fill="#d65a64"/>
<rect x="414.81" y="494.76" width="6.97" height="6.95" fill="#d65a64"/>
<rect x="422.37" y="494.76" width="6.97" height="6.95" fill="#d65a64"/>
<rect x="429.94" y="494.76" width="6.97" height="6.95" fill="#cc0018"/>
<text x="306.88" y="385.80" font-size="6.0" text-anchor="start" fill="#111" stroke="#111" stroke-width="0.168" transform="rotate(-90 306.88 385.80)">P1</text>
<text x="314.45" y="385.80" font-size="6.0" text-anchor="start" fill="#111" stroke="#111" stroke-width="0.168" transform="rotate(-90 314.45 385.80)">P2</text>
<text x="322.02" y="385.80" font-size="6.0" text-anchor="start" fill="#111" stroke="#111" stroke-width="0.168" transform="rotate(-90 322.02 385.80)">P3</text>
<text x="329.58" y="385.80" font-size="6.0" text-anchor="start" fill="#111" stroke="#111" stroke-width="0.168" transform="rotate(-90 329.58 385.80)">P4</text>
<text x="337.15" y="385.80" font-size="6.0" text-anchor="start" fill="#111" stroke="#111" stroke-width="0.168" transform="rotate(-90 337.15 385.80)">P5</text>
<text x="344.72" y="385.80" font-size="6.0" text-anchor="start" fill="#111" stroke="#111" stroke-width="0.168" transform="rotate(-90 344.72 385.80)">P6</text>
<text x="352.29" y="385.80" font-size="6.0" text-anchor="start" fill="#111" stroke="#111" stroke-width="0.168" transform="rotate(-90 352.29 385.80)">P8</text>
<text x="359.85" y="385.80" font-size="6.0" text-anchor="start" fill="#111" stroke="#111" stroke-width="0.168" transform="rotate(-90 359.85 385.80)">P9</text>
<text x="367.42" y="385.80" font-size="6.0" text-anchor="start" fill="#111" stroke="#111" stroke-width="0.168" transform="rotate(-90 367.42 385.80)">P11</text>
<text x="374.99" y="385.80" font-size="6.0" text-anchor="start" fill="#111" stroke="#111" stroke-width="0.168" transform="rotate(-90 374.99 385.80)">P12</text>
<text x="382.55" y="385.80" font-size="6.0" text-anchor="start" fill="#111" stroke="#111" stroke-width="0.168" transform="rotate(-90 382.55 385.80)">P18</text>
<text x="390.12" y="385.80" font-size="6.0" text-anchor="start" fill="#111" stroke="#111" stroke-width="0.168" transform="rotate(-90 390.12 385.80)">P19</text>
<text x="397.69" y="385.80" font-size="6.0" text-anchor="start" fill="#111" stroke="#111" stroke-width="0.168" transform="rotate(-90 397.69 385.80)">P13</text>
<text x="405.25" y="385.80" font-size="6.0" text-anchor="start" fill="#111" stroke="#111" stroke-width="0.168" transform="rotate(-90 405.25 385.80)">pDC_1</text>
<text x="412.82" y="385.80" font-size="6.0" text-anchor="start" fill="#111" stroke="#111" stroke-width="0.168" transform="rotate(-90 412.82 385.80)">pDC_2</text>
<text x="420.39" y="385.80" font-size="6.0" text-anchor="start" fill="#111" stroke="#111" stroke-width="0.168" transform="rotate(-90 420.39 385.80)">pDC_3</text>
<text x="427.96" y="385.80" font-size="6.0" text-anchor="start" fill="#111" stroke="#111" stroke-width="0.168" transform="rotate(-90 427.96 385.80)">pDC_4</text>
<text x="435.52" y="385.80" font-size="6.0" text-anchor="start" fill="#111" stroke="#111" stroke-width="0.168" transform="rotate(-90 435.52 385.80)">pDC_5</text>
<text x="438.90" y="387.60" font-size="6.4" text-anchor="start" fill="#111" stroke="#111" stroke-width="0.179">Gene name</text>
<text x="438.90" y="395.30" font-size="6.5" text-anchor="start" fill="#111" stroke="#111" stroke-width="0.182">SOX4</text>
<text x="438.90" y="403.03" font-size="6.5" text-anchor="start" fill="#111" stroke="#111" stroke-width="0.182">GLUL</text>
<text x="438.90" y="410.76" font-size="6.5" text-anchor="start" fill="#111" stroke="#111" stroke-width="0.182">IGLL1</text>
<text x="438.90" y="418.49" font-size="6.5" text-anchor="start" fill="#111" stroke="#111" stroke-width="0.182">LRMP</text>
<text x="438.90" y="426.22" font-size="6.5" text-anchor="start" fill="#111" stroke="#111" stroke-width="0.182">CLEC11A</text>
<text x="438.90" y="433.95" font-size="6.5" text-anchor="start" fill="#111" stroke="#111" stroke-width="0.182">TLR2</text>
<text x="438.90" y="441.68" font-size="6.5" text-anchor="start" fill="#111" stroke="#111" stroke-width="0.182">BCL2</text>
<text x="438.90" y="449.41" font-size="6.5" text-anchor="start" fill="#111" stroke="#111" stroke-width="0.182">SIGLEC6</text>
<text x="438.90" y="457.14" font-size="6.5" text-anchor="start" fill="#111" stroke="#111" stroke-width="0.182">CD2</text>
<text x="438.90" y="464.87" font-size="6.5" text-anchor="start" fill="#111" stroke="#111" stroke-width="0.182">GZMB</text>
<text x="438.90" y="472.60" font-size="6.5" text-anchor="start" fill="#111" stroke="#111" stroke-width="0.182">CLEC4C</text>
<text x="438.90" y="480.33" font-size="6.5" text-anchor="start" fill="#111" stroke="#111" stroke-width="0.182">IL10RA</text>
<text x="438.90" y="488.06" font-size="6.5" text-anchor="start" fill="#111" stroke="#111" stroke-width="0.182">CXCR3</text>
<text x="438.90" y="495.79" font-size="6.5" text-anchor="start" fill="#111" stroke="#111" stroke-width="0.182">BCL11A</text>
<text x="438.90" y="503.52" font-size="6.5" text-anchor="start" fill="#111" stroke="#111" stroke-width="0.182">NPC2</text>
<rect x="479.0" y="451.20" width="6.6" height="7.1" fill="#cc0018"/>
<rect x="479.0" y="458.75" width="6.6" height="7.1" fill="#d65a64"/>
<rect x="479.0" y="466.30" width="6.6" height="7.1" fill="#f2d2d6"/>
<rect x="479.0" y="473.85" width="6.6" height="7.1" fill="#d6d6ec"/>
<rect x="479.0" y="481.40" width="6.6" height="7.1" fill="#7878bc"/>
<rect x="479.0" y="488.95" width="6.6" height="7.1" fill="#343f9a"/>
<text x="500.60" y="456.90" font-size="6.2" text-anchor="middle" fill="#b82848" stroke="#b82848" stroke-width="0.174">Genes</text>
<text x="500.60" y="464.45" font-size="6.2" text-anchor="middle" fill="#b82848" stroke="#b82848" stroke-width="0.174">up-</text>
<text x="500.60" y="472.00" font-size="6.2" text-anchor="middle" fill="#b82848" stroke="#b82848" stroke-width="0.174">regulated</text>
<text x="500.60" y="479.55" font-size="6.2" text-anchor="middle" fill="#3d5c9c" stroke="#3d5c9c" stroke-width="0.174">Genes</text>
<text x="500.60" y="487.10" font-size="6.2" text-anchor="middle" fill="#3d5c9c" stroke="#3d5c9c" stroke-width="0.174">down-</text>
<text x="500.60" y="494.65" font-size="6.2" text-anchor="middle" fill="#3d5c9c" stroke="#3d5c9c" stroke-width="0.174">regulated</text>
<text x="6.20" y="378.30" font-size="12.6" text-anchor="start" fill="#000" font-weight="bold" stroke="#000" stroke-width="0.45">C</text>
<text x="87.65" y="376.50" font-size="4.4" text-anchor="middle" fill="#111" font-weight="bold" textLength="100.5" lengthAdjust="spacingAndGlyphs" stroke="#111" stroke-width="0.12">Enrichment plot: GO_HISTONE_DEUBIQUITINATION</text>
<rect x="35.0" y="380.2" width="105.5" height="44.400000000000034" fill="#fff" stroke="#d6d6d6" stroke-width="0.6"/>
<line x1="35.0" y1="415.30" x2="140.5" y2="415.30" stroke="#f0f0f0" stroke-width="0.5"/>
<line x1="35.0" y1="408.50" x2="140.5" y2="408.50" stroke="#f0f0f0" stroke-width="0.5"/>
<line x1="35.0" y1="401.70" x2="140.5" y2="401.70" stroke="#f0f0f0" stroke-width="0.5"/>
<line x1="35.0" y1="394.90" x2="140.5" y2="394.90" stroke="#f0f0f0" stroke-width="0.5"/>
<line x1="35.0" y1="388.10" x2="140.5" y2="388.10" stroke="#f0f0f0" stroke-width="0.5"/>
<line x1="35.0" y1="381.30" x2="140.5" y2="381.30" stroke="#f0f0f0" stroke-width="0.5"/>
<line x1="47.70" y1="380.2" x2="47.70" y2="424.6" stroke="#f0f0f0" stroke-width="0.5"/>
<line x1="59.70" y1="380.2" x2="59.70" y2="424.6" stroke="#f0f0f0" stroke-width="0.5"/>
<line x1="71.70" y1="380.2" x2="71.70" y2="424.6" stroke="#f0f0f0" stroke-width="0.5"/>
<line x1="83.70" y1="380.2" x2="83.70" y2="424.6" stroke="#f0f0f0" stroke-width="0.5"/>
<line x1="95.70" y1="380.2" x2="95.70" y2="424.6" stroke="#f0f0f0" stroke-width="0.5"/>
<line x1="107.70" y1="380.2" x2="107.70" y2="424.6" stroke="#f0f0f0" stroke-width="0.5"/>
<line x1="119.70" y1="380.2" x2="119.70" y2="424.6" stroke="#f0f0f0" stroke-width="0.5"/>
<line x1="131.70" y1="380.2" x2="131.70" y2="424.6" stroke="#f0f0f0" stroke-width="0.5"/>
<line x1="35.0" y1="422.1" x2="140.5" y2="422.1" stroke="#c8c8c8" stroke-width="0.6"/>
<text x="33.50" y="423.40" font-size="3.9" text-anchor="end" fill="#333">0.0</text>
<text x="33.50" y="416.60" font-size="3.9" text-anchor="end" fill="#333">0.1</text>
<text x="33.50" y="409.80" font-size="3.9" text-anchor="end" fill="#333">0.2</text>
<text x="33.50" y="403.00" font-size="3.9" text-anchor="end" fill="#333">0.3</text>
<text x="33.50" y="396.20" font-size="3.9" text-anchor="end" fill="#333">0.4</text>
<text x="33.50" y="389.40" font-size="3.9" text-anchor="end" fill="#333">0.5</text>
<text x="33.50" y="382.60" font-size="3.9" text-anchor="end" fill="#333">0.6</text>
<polyline points="35.30,422.10 38.00,424.20 38.90,416.20 41.00,417.90 41.60,413.00 42.70,406.70 43.80,392.90 48.60,396.10 49.70,391.90 51.60,390.80 52.80,388.30 53.90,389.10 54.80,382.80 56.40,384.50 58.60,383.00 60.00,382.80 64.30,385.90 68.50,387.20 80.80,395.50 95.60,404.60 97.30,403.50 98.30,405.00 99.80,403.90 128.40,424.20 129.40,418.30 135.40,422.10" fill="none" stroke="#78b836" stroke-width="1.25" stroke-linejoin="round"/>
<rect x="35.0" y="425.60" width="105.5" height="16.50" fill="#fff" stroke="#d6d6d6" stroke-width="0.5"/>
<line x1="38.00" y1="426.7" x2="38.00" y2="441.5" stroke="#707070" stroke-width="0.65"/>
<line x1="39.50" y1="426.7" x2="39.50" y2="441.5" stroke="#707070" stroke-width="0.65"/>
<line x1="41.60" y1="426.7" x2="41.60" y2="441.5" stroke="#707070" stroke-width="0.65"/>
<line x1="42.30" y1="426.7" x2="42.30" y2="441.5" stroke="#707070" stroke-width="0.65"/>
<line x1="43.10" y1="426.7" x2="43.10" y2="441.5" stroke="#707070" stroke-width="0.65"/>
<line x1="43.80" y1="426.7" x2="43.80" y2="441.5" stroke="#707070" stroke-width="0.65"/>
<line x1="44.40" y1="426.7" x2="44.40" y2="441.5" stroke="#707070" stroke-width="0.65"/>
<line x1="49.00" y1="426.7" x2="49.00" y2="441.5" stroke="#707070" stroke-width="0.65"/>
<line x1="50.10" y1="426.7" x2="50.10" y2="441.5" stroke="#707070" stroke-width="0.65"/>
<line x1="51.20" y1="426.7" x2="51.20" y2="441.5" stroke="#707070" stroke-width="0.65"/>
<line x1="52.20" y1="426.7" x2="52.20" y2="441.5" stroke="#707070" stroke-width="0.65"/>
<line x1="53.70" y1="426.7" x2="53.70" y2="441.5" stroke="#707070" stroke-width="0.65"/>
<line x1="57.10" y1="426.7" x2="57.10" y2="441.5" stroke="#707070" stroke-width="0.65"/>
<line x1="58.60" y1="426.7" x2="58.60" y2="441.5" stroke="#707070" stroke-width="0.65"/>
<line x1="64.90" y1="426.7" x2="64.90" y2="441.5" stroke="#707070" stroke-width="0.65"/>
<line x1="66.40" y1="426.7" x2="66.40" y2="441.5" stroke="#707070" stroke-width="0.65"/>
<line x1="68.10" y1="426.7" x2="68.10" y2="441.5" stroke="#707070" stroke-width="0.65"/>
<line x1="73.40" y1="426.7" x2="73.40" y2="441.5" stroke="#707070" stroke-width="0.65"/>
<line x1="80.80" y1="426.7" x2="80.80" y2="441.5" stroke="#707070" stroke-width="0.65"/>
<line x1="95.60" y1="426.7" x2="95.60" y2="441.5" stroke="#707070" stroke-width="0.65"/>
<line x1="97.30" y1="426.7" x2="97.30" y2="441.5" stroke="#707070" stroke-width="0.65"/>
<line x1="99.40" y1="426.7" x2="99.40" y2="441.5" stroke="#707070" stroke-width="0.65"/>
<line x1="129.40" y1="426.7" x2="129.40" y2="441.5" stroke="#707070" stroke-width="0.65"/>
<rect x="35.90" y="442.1" width="13.15" height="3.599999999999966" fill="#d42c3a"/>
<rect x="49.00" y="442.1" width="14.05" height="3.599999999999966" fill="#dc6670"/>
<rect x="63.00" y="442.1" width="10.05" height="3.599999999999966" fill="#ecbcd8"/>
<rect x="73.00" y="442.1" width="13.05" height="3.599999999999966" fill="#dedcf2"/>
<rect x="86.00" y="442.1" width="13.05" height="3.599999999999966" fill="#cac4ea"/>
<rect x="99.00" y="442.1" width="12.05" height="3.599999999999966" fill="#8080c8"/>
<rect x="111.00" y="442.1" width="18.05" height="3.599999999999966" fill="#4a48a8"/>
<rect x="129.00" y="442.1" width="6.45" height="3.599999999999966" fill="#22228e"/>
<rect x="35.0" y="445.7" width="105.5" height="31.5" fill="#fff" stroke="#d6d6d6" stroke-width="0.5"/>
<line x1="47.70" y1="445.7" x2="47.70" y2="477.2" stroke="#f2f2f2" stroke-width="0.5"/>
<line x1="59.70" y1="445.7" x2="59.70" y2="477.2" stroke="#f2f2f2" stroke-width="0.5"/>
<line x1="71.70" y1="445.7" x2="71.70" y2="477.2" stroke="#f2f2f2" stroke-width="0.5"/>
<line x1="83.70" y1="445.7" x2="83.70" y2="477.2" stroke="#f2f2f2" stroke-width="0.5"/>
<line x1="95.70" y1="445.7" x2="95.70" y2="477.2" stroke="#f2f2f2" stroke-width="0.5"/>
<line x1="107.70" y1="445.7" x2="107.70" y2="477.2" stroke="#f2f2f2" stroke-width="0.5"/>
<line x1="119.70" y1="445.7" x2="119.70" y2="477.2" stroke="#f2f2f2" stroke-width="0.5"/>
<line x1="131.70" y1="445.7" x2="131.70" y2="477.2" stroke="#f2f2f2" stroke-width="0.5"/>
<text x="36.20" y="448.30" font-size="2.6" text-anchor="start" fill="#d02828" textLength="34" lengthAdjust="spacingAndGlyphs">BPDCN (positively correlated)</text>
<path d="M35.90,463.90 L35.90,454.80 L36.52,456.33 L37.14,457.27 L37.77,457.89 L38.39,458.32 L39.01,458.65 L39.63,458.91 L40.25,459.14 L40.88,459.33 L41.50,459.51 L42.12,459.67 L42.74,459.82 L43.36,459.96 L43.98,460.10 L44.61,460.22 L45.23,460.34 L45.85,460.46 L46.47,460.57 L47.09,460.68 L47.72,460.78 L48.34,460.88 L48.96,460.98 L49.58,461.07 L50.20,461.16 L50.82,461.25 L51.45,461.34 L52.07,461.43 L52.69,461.51 L53.31,461.60 L53.93,461.68 L54.56,461.76 L55.18,461.84 L55.80,461.92 L56.42,462.00 L57.04,462.08 L57.67,462.15 L58.29,462.23 L58.91,462.30 L59.53,462.38 L60.15,462.45 L60.77,462.53 L61.40,462.60 L62.02,462.67 L62.64,462.75 L63.26,462.82 L63.88,462.89 L64.51,462.96 L65.13,463.03 L65.75,463.10 L66.37,463.17 L66.99,463.24 L67.62,463.30 L68.24,463.37 L68.86,463.44 L69.48,463.50 L70.10,463.57 L70.72,463.63 L71.35,463.69 L71.97,463.75 L72.59,463.81 L73.21,463.86 L73.83,463.90 L74.46,463.91 L75.08,463.93 L75.70,463.95 L76.32,463.96 L76.94,463.98 L77.57,464.00 L78.19,464.02 L78.81,464.04 L79.43,464.06 L80.05,464.09 L80.67,464.11 L81.30,464.13 L81.92,464.15 L82.54,464.18 L83.16,464.20 L83.78,464.23 L84.41,464.25 L85.03,464.27 L85.65,464.30 L86.27,464.32 L86.89,464.35 L87.52,464.37 L88.14,464.40 L88.76,464.43 L89.38,464.45 L90.00,464.48 L90.62,464.51 L91.25,464.53 L91.87,464.56 L92.49,464.59 L93.11,464.61 L93.73,464.64 L94.36,464.67 L94.98,464.70 L95.60,464.72 L96.22,464.75 L96.84,464.78 L97.47,464.81 L98.09,464.84 L98.71,464.87 L99.33,464.90 L99.95,464.93 L100.57,464.95 L101.20,464.98 L101.82,465.01 L102.44,465.04 L103.06,465.07 L103.68,465.10 L104.31,465.13 L104.93,465.16 L105.55,465.19 L106.17,465.22 L106.79,465.25 L107.42,465.28 L108.04,465.32 L108.66,465.35 L109.28,465.38 L109.90,465.41 L110.53,465.44 L111.15,465.47 L111.77,465.50 L112.39,465.53 L113.01,465.56 L113.63,465.60 L114.26,465.63 L114.88,465.66 L115.50,465.69 L116.12,465.72 L116.74,465.76 L117.37,465.79 L117.99,465.82 L118.61,465.85 L119.23,465.89 L119.85,465.92 L120.47,465.95 L121.10,465.98 L121.72,466.02 L122.34,466.05 L122.96,466.08 L123.58,466.12 L124.21,466.15 L124.83,466.19 L125.45,466.23 L126.07,466.27 L126.69,466.31 L127.32,466.35 L127.94,466.41 L128.56,466.47 L129.18,466.55 L129.80,466.65 L130.42,466.78 L131.05,466.97 L131.67,467.24 L132.29,467.62 L132.91,468.19 L133.53,469.04 L134.16,470.31 L134.78,472.21 L135.40,475.08 L135.40,463.90 Z" fill="#cfcfcf" stroke="#9a9a9a" stroke-width="0.35"/>
<line x1="35.0" y1="463.9" x2="140.5" y2="463.9" stroke="#b8b8b8" stroke-width="0.4"/>
<text x="73.00" y="462.40" font-size="3.0" text-anchor="middle" fill="#222" textLength="18.5" lengthAdjust="spacingAndGlyphs">Zero cross at 7896</text>
<text x="104.20" y="476.00" font-size="3.0" text-anchor="middle" fill="#3030b0" textLength="32.4" lengthAdjust="spacingAndGlyphs">T-ALL (negatively correlated)</text>
<text x="33.20" y="449.60" font-size="3.9" text-anchor="end" fill="#333">3</text>
<text x="33.20" y="454.80" font-size="3.9" text-anchor="end" fill="#333">2</text>
<text x="33.20" y="460.00" font-size="3.9" text-anchor="end" fill="#333">1</text>
<text x="33.20" y="465.20" font-size="3.9" text-anchor="end" fill="#333">0</text>
<text x="33.20" y="470.40" font-size="3.9" text-anchor="end" fill="#333">-1</text>
<text x="33.20" y="475.60" font-size="3.9" text-anchor="end" fill="#333">-2</text>
<text x="23.00" y="402.40" font-size="6.2" text-anchor="middle" fill="#111" stroke="#111" stroke-width="0.174" transform="rotate(-90 23.00 402.40)" textLength="43.3" lengthAdjust="spacingAndGlyphs">Enrichment score (ES)</text>
<text x="26.80" y="461.00" font-size="6.2" text-anchor="middle" fill="#111" stroke="#111" stroke-width="0.174" transform="rotate(-90 26.80 461.00)" textLength="64" lengthAdjust="spacingAndGlyphs">Ranked list metric (Signal2Noise)</text>
<text x="36.70" y="483.00" font-size="4.6" text-anchor="end" fill="#555" stroke="#555" stroke-width="0.129" transform="rotate(-45 36.70 483.00)">0</text>
<text x="48.70" y="483.00" font-size="4.6" text-anchor="end" fill="#555" stroke="#555" stroke-width="0.129" transform="rotate(-45 48.70 483.00)" textLength="11.5" lengthAdjust="spacingAndGlyphs">2,500</text>
<text x="60.70" y="483.00" font-size="4.6" text-anchor="end" fill="#555" stroke="#555" stroke-width="0.129" transform="rotate(-45 60.70 483.00)" textLength="11.5" lengthAdjust="spacingAndGlyphs">5,000</text>
<text x="72.70" y="483.00" font-size="4.6" text-anchor="end" fill="#555" stroke="#555" stroke-width="0.129" transform="rotate(-45 72.70 483.00)" textLength="11.5" lengthAdjust="spacingAndGlyphs">7,500</text>
<text x="84.70" y="483.00" font-size="4.6" text-anchor="end" fill="#555" stroke="#555" stroke-width="0.129" transform="rotate(-45 84.70 483.00)" textLength="13.799999999999999" lengthAdjust="spacingAndGlyphs">10,000</text>
<text x="96.70" y="483.00" font-size="4.6" text-anchor="end" fill="#555" stroke="#555" stroke-width="0.129" transform="rotate(-45 96.70 483.00)" textLength="13.799999999999999" lengthAdjust="spacingAndGlyphs">12,500</text>
<text x="108.70" y="483.00" font-size="4.6" text-anchor="end" fill="#555" stroke="#555" stroke-width="0.129" transform="rotate(-45 108.70 483.00)" textLength="13.799999999999999" lengthAdjust="spacingAndGlyphs">15,000</text>
<text x="120.70" y="483.00" font-size="4.6" text-anchor="end" fill="#555" stroke="#555" stroke-width="0.129" transform="rotate(-45 120.70 483.00)" textLength="13.799999999999999" lengthAdjust="spacingAndGlyphs">17,500</text>
<text x="132.70" y="483.00" font-size="4.6" text-anchor="end" fill="#555" stroke="#555" stroke-width="0.129" transform="rotate(-45 132.70 483.00)" textLength="13.799999999999999" lengthAdjust="spacingAndGlyphs">20,000</text>
<text x="82.60" y="501.10" font-size="6.5" text-anchor="middle" fill="#111" stroke="#111" stroke-width="0.182" textLength="45.6" lengthAdjust="spacingAndGlyphs">Rank in ordered dataset</text>
<text x="103.50" y="505.60" font-size="3.2" text-anchor="start" fill="#111" textLength="23.2" lengthAdjust="spacingAndGlyphs">NOM P-value = 0.022</text>
<text x="103.50" y="509.60" font-size="3.2" text-anchor="start" fill="#111" textLength="23.2" lengthAdjust="spacingAndGlyphs">FDR Q-value = 0.204</text>
<line x1="42.5" y1="514.7" x2="46.7" y2="514.7" stroke="#78b836" stroke-width="0.9"/>
<text x="48.80" y="515.70" font-size="3.0" text-anchor="start" fill="#444" textLength="23.8" lengthAdjust="spacingAndGlyphs">Enrichment profile</text>
<line x1="80.5" y1="514.7" x2="83.5" y2="514.7" stroke="#777" stroke-width="0.5"/>
<text x="85.00" y="515.70" font-size="3.0" text-anchor="start" fill="#444" textLength="4.2" lengthAdjust="spacingAndGlyphs">Hits</text>
<line x1="102.0" y1="514.7" x2="105.0" y2="514.7" stroke="#ccc" stroke-width="0.5"/>
<text x="106.50" y="515.70" font-size="3.0" text-anchor="start" fill="#444" textLength="28.9" lengthAdjust="spacingAndGlyphs">Ranking metric scores</text>
<text x="149.60" y="377.00" font-size="12.0" text-anchor="start" fill="#000" font-weight="bold" stroke="#000" stroke-width="0.45">D</text>
<text x="231.15" y="375.20" font-size="4.4" text-anchor="middle" fill="#111" font-weight="bold" textLength="82.3" lengthAdjust="spacingAndGlyphs" stroke="#111" stroke-width="0.12">Enrichment plot: KEGG_PROTEIN_EXPORT</text>
<rect x="178.5" y="378.8" width="105.89999999999998" height="46.0" fill="#fff" stroke="#d6d6d6" stroke-width="0.6"/>
<line x1="178.5" y1="418.16" x2="284.4" y2="418.16" stroke="#f0f0f0" stroke-width="0.5"/>
<line x1="178.5" y1="412.82" x2="284.4" y2="412.82" stroke="#f0f0f0" stroke-width="0.5"/>
<line x1="178.5" y1="407.48" x2="284.4" y2="407.48" stroke="#f0f0f0" stroke-width="0.5"/>
<line x1="178.5" y1="402.14" x2="284.4" y2="402.14" stroke="#f0f0f0" stroke-width="0.5"/>
<line x1="178.5" y1="396.80" x2="284.4" y2="396.80" stroke="#f0f0f0" stroke-width="0.5"/>
<line x1="178.5" y1="391.46" x2="284.4" y2="391.46" stroke="#f0f0f0" stroke-width="0.5"/>
<line x1="178.5" y1="386.12" x2="284.4" y2="386.12" stroke="#f0f0f0" stroke-width="0.5"/>
<line x1="178.5" y1="380.78" x2="284.4" y2="380.78" stroke="#f0f0f0" stroke-width="0.5"/>
<line x1="191.30" y1="378.8" x2="191.30" y2="424.8" stroke="#f0f0f0" stroke-width="0.5"/>
<line x1="203.50" y1="378.8" x2="203.50" y2="424.8" stroke="#f0f0f0" stroke-width="0.5"/>
<line x1="215.70" y1="378.8" x2="215.70" y2="424.8" stroke="#f0f0f0" stroke-width="0.5"/>
<line x1="227.90" y1="378.8" x2="227.90" y2="424.8" stroke="#f0f0f0" stroke-width="0.5"/>
<line x1="240.10" y1="378.8" x2="240.10" y2="424.8" stroke="#f0f0f0" stroke-width="0.5"/>
<line x1="252.30" y1="378.8" x2="252.30" y2="424.8" stroke="#f0f0f0" stroke-width="0.5"/>
<line x1="264.50" y1="378.8" x2="264.50" y2="424.8" stroke="#f0f0f0" stroke-width="0.5"/>
<line x1="276.70" y1="378.8" x2="276.70" y2="424.8" stroke="#f0f0f0" stroke-width="0.5"/>
<line x1="178.5" y1="423.5" x2="284.4" y2="423.5" stroke="#c8c8c8" stroke-width="0.6"/>
<text x="177.00" y="424.80" font-size="3.9" text-anchor="end" fill="#333">0.0</text>
<text x="177.00" y="419.46" font-size="3.9" text-anchor="end" fill="#333">0.1</text>
<text x="177.00" y="414.12" font-size="3.9" text-anchor="end" fill="#333">0.2</text>
<text x="177.00" y="408.78" font-size="3.9" text-anchor="end" fill="#333">0.3</text>
<text x="177.00" y="403.44" font-size="3.9" text-anchor="end" fill="#333">0.4</text>
<text x="177.00" y="398.10" font-size="3.9" text-anchor="end" fill="#333">0.5</text>
<text x="177.00" y="392.76" font-size="3.9" text-anchor="end" fill="#333">0.6</text>
<text x="177.00" y="387.42" font-size="3.9" text-anchor="end" fill="#333">0.7</text>
<text x="177.00" y="382.08" font-size="3.9" text-anchor="end" fill="#333">0.8</text>
<polyline points="178.80,423.50 179.20,417.30 180.40,416.60 181.10,412.70 182.00,404.60 183.20,398.80 184.30,397.70 185.70,394.20 186.60,392.40 187.30,386.20 189.60,384.30 191.90,383.20 193.10,383.20 194.20,381.10 202.30,385.70 206.50,386.20 225.40,395.40 236.90,401.80 238.10,401.60 279.60,423.50" fill="none" stroke="#78b836" stroke-width="1.25" stroke-linejoin="round"/>
<rect x="178.5" y="425.80" width="105.89999999999998" height="15.40" fill="#fff" stroke="#d6d6d6" stroke-width="0.5"/>
<line x1="179.70" y1="426.5" x2="179.70" y2="441.2" stroke="#707070" stroke-width="0.65"/>
<line x1="180.60" y1="426.5" x2="180.60" y2="441.2" stroke="#707070" stroke-width="0.65"/>
<line x1="181.50" y1="426.5" x2="181.50" y2="441.2" stroke="#707070" stroke-width="0.65"/>
<line x1="182.70" y1="426.5" x2="182.70" y2="441.2" stroke="#707070" stroke-width="0.65"/>
<line x1="183.80" y1="426.5" x2="183.80" y2="441.2" stroke="#707070" stroke-width="0.65"/>
<line x1="185.00" y1="426.5" x2="185.00" y2="441.2" stroke="#707070" stroke-width="0.65"/>
<line x1="186.20" y1="426.5" x2="186.20" y2="441.2" stroke="#707070" stroke-width="0.65"/>
<line x1="187.30" y1="426.5" x2="187.30" y2="441.2" stroke="#707070" stroke-width="0.65"/>
<line x1="188.50" y1="426.5" x2="188.50" y2="441.2" stroke="#707070" stroke-width="0.65"/>
<line x1="189.60" y1="426.5" x2="189.60" y2="441.2" stroke="#707070" stroke-width="0.65"/>
<line x1="190.80" y1="426.5" x2="190.80" y2="441.2" stroke="#707070" stroke-width="0.65"/>
<line x1="191.90" y1="426.5" x2="191.90" y2="441.2" stroke="#707070" stroke-width="0.65"/>
<line x1="193.10" y1="426.5" x2="193.10" y2="441.2" stroke="#707070" stroke-width="0.65"/>
<line x1="194.20" y1="426.5" x2="194.20" y2="441.2" stroke="#707070" stroke-width="0.65"/>
<line x1="203.50" y1="426.5" x2="203.50" y2="441.2" stroke="#707070" stroke-width="0.65"/>
<line x1="204.60" y1="426.5" x2="204.60" y2="441.2" stroke="#707070" stroke-width="0.65"/>
<line x1="205.80" y1="426.5" x2="205.80" y2="441.2" stroke="#707070" stroke-width="0.65"/>
<line x1="223.50" y1="426.5" x2="223.50" y2="441.2" stroke="#707070" stroke-width="0.65"/>
<line x1="237.60" y1="426.5" x2="237.60" y2="441.2" stroke="#707070" stroke-width="0.65"/>
<rect x="178.80" y="441.2" width="11.25" height="3.8000000000000114" fill="#d42c3a"/>
<rect x="190.00" y="441.2" width="12.05" height="3.8000000000000114" fill="#dc6670"/>
<rect x="202.00" y="441.2" width="9.55" height="3.8000000000000114" fill="#ecbcd8"/>
<rect x="211.50" y="441.2" width="11.05" height="3.8000000000000114" fill="#dedcf2"/>
<rect x="222.50" y="441.2" width="14.55" height="3.8000000000000114" fill="#cac4ea"/>
<rect x="237.00" y="441.2" width="12.55" height="3.8000000000000114" fill="#8080c8"/>
<rect x="249.50" y="441.2" width="26.05" height="3.8000000000000114" fill="#4a48a8"/>
<rect x="275.50" y="441.2" width="3.75" height="3.8000000000000114" fill="#22228e"/>
<rect x="178.5" y="445.0" width="105.89999999999998" height="31.600000000000023" fill="#fff" stroke="#d6d6d6" stroke-width="0.5"/>
<line x1="191.30" y1="445.0" x2="191.30" y2="476.6" stroke="#f2f2f2" stroke-width="0.5"/>
<line x1="203.50" y1="445.0" x2="203.50" y2="476.6" stroke="#f2f2f2" stroke-width="0.5"/>
<line x1="215.70" y1="445.0" x2="215.70" y2="476.6" stroke="#f2f2f2" stroke-width="0.5"/>
<line x1="227.90" y1="445.0" x2="227.90" y2="476.6" stroke="#f2f2f2" stroke-width="0.5"/>
<line x1="240.10" y1="445.0" x2="240.10" y2="476.6" stroke="#f2f2f2" stroke-width="0.5"/>
<line x1="252.30" y1="445.0" x2="252.30" y2="476.6" stroke="#f2f2f2" stroke-width="0.5"/>
<line x1="264.50" y1="445.0" x2="264.50" y2="476.6" stroke="#f2f2f2" stroke-width="0.5"/>
<line x1="276.70" y1="445.0" x2="276.70" y2="476.6" stroke="#f2f2f2" stroke-width="0.5"/>
<text x="179.10" y="447.60" font-size="2.6" text-anchor="start" fill="#d02828" textLength="35" lengthAdjust="spacingAndGlyphs">BPDCN (positively correlated)</text>
<path d="M178.80,464.40 L178.80,453.72 L179.43,455.54 L180.06,456.66 L180.68,457.39 L181.31,457.92 L181.94,458.31 L182.56,458.64 L183.19,458.91 L183.82,459.15 L184.45,459.38 L185.08,459.58 L185.70,459.77 L186.33,459.95 L186.96,460.12 L187.59,460.28 L188.21,460.44 L188.84,460.58 L189.47,460.73 L190.09,460.87 L190.72,461.00 L191.35,461.13 L191.98,461.26 L192.61,461.38 L193.23,461.50 L193.86,461.62 L194.49,461.73 L195.12,461.85 L195.74,461.96 L196.37,462.07 L197.00,462.18 L197.62,462.29 L198.25,462.39 L198.88,462.50 L199.51,462.60 L200.13,462.70 L200.76,462.80 L201.39,462.90 L202.02,463.00 L202.65,463.10 L203.27,463.20 L203.90,463.30 L204.53,463.39 L205.16,463.48 L205.78,463.58 L206.41,463.67 L207.04,463.76 L207.66,463.85 L208.29,463.94 L208.92,464.03 L209.55,464.11 L210.18,464.19 L210.80,464.27 L211.43,464.35 L212.06,464.40 L212.69,464.41 L213.31,464.43 L213.94,464.45 L214.57,464.46 L215.19,464.48 L215.82,464.50 L216.45,464.52 L217.08,464.54 L217.71,464.56 L218.33,464.58 L218.96,464.60 L219.59,464.62 L220.22,464.65 L220.84,464.67 L221.47,464.69 L222.10,464.72 L222.72,464.74 L223.35,464.76 L223.98,464.79 L224.61,464.81 L225.24,464.84 L225.86,464.86 L226.49,464.89 L227.12,464.91 L227.75,464.94 L228.37,464.96 L229.00,464.99 L229.63,465.01 L230.25,465.04 L230.88,465.07 L231.51,465.09 L232.14,465.12 L232.76,465.15 L233.39,465.17 L234.02,465.20 L234.65,465.23 L235.28,465.26 L235.90,465.28 L236.53,465.31 L237.16,465.34 L237.78,465.37 L238.41,465.40 L239.04,465.42 L239.67,465.45 L240.30,465.48 L240.92,465.51 L241.55,465.54 L242.18,465.57 L242.81,465.60 L243.43,465.63 L244.06,465.66 L244.69,465.69 L245.31,465.72 L245.94,465.75 L246.57,465.78 L247.20,465.81 L247.82,465.84 L248.45,465.87 L249.08,465.90 L249.71,465.93 L250.33,465.96 L250.96,465.99 L251.59,466.02 L252.22,466.05 L252.84,466.08 L253.47,466.11 L254.10,466.14 L254.73,466.17 L255.35,466.20 L255.98,466.24 L256.61,466.27 L257.24,466.30 L257.87,466.33 L258.49,466.36 L259.12,466.39 L259.75,466.42 L260.38,466.46 L261.00,466.49 L261.63,466.52 L262.26,466.55 L262.88,466.59 L263.51,466.62 L264.14,466.65 L264.77,466.68 L265.39,466.72 L266.02,466.75 L266.65,466.78 L267.28,466.82 L267.90,466.85 L268.53,466.88 L269.16,466.92 L269.79,466.96 L270.41,467.00 L271.04,467.04 L271.67,467.09 L272.30,467.14 L272.92,467.21 L273.55,467.29 L274.18,467.40 L274.81,467.54 L275.44,467.75 L276.06,468.04 L276.69,468.47 L277.32,469.10 L277.94,470.03 L278.57,471.44 L279.20,473.55 L279.20,464.40 Z" fill="#cfcfcf" stroke="#9a9a9a" stroke-width="0.35"/>
<line x1="178.5" y1="464.4" x2="284.4" y2="464.4" stroke="#b8b8b8" stroke-width="0.4"/>
<text x="211.80" y="461.40" font-size="3.0" text-anchor="middle" fill="#222" textLength="18.6" lengthAdjust="spacingAndGlyphs">Zero cross at 6908</text>
<text x="248.80" y="474.80" font-size="3.0" text-anchor="middle" fill="#3030b0" textLength="34.3" lengthAdjust="spacingAndGlyphs">T-ALL (negatively correlated)</text>
<text x="176.70" y="447.40" font-size="3.9" text-anchor="end" fill="#333">3</text>
<text x="176.70" y="453.50" font-size="3.9" text-anchor="end" fill="#333">2</text>
<text x="176.70" y="459.60" font-size="3.9" text-anchor="end" fill="#333">1</text>
<text x="176.70" y="465.70" font-size="3.9" text-anchor="end" fill="#333">0</text>
<text x="176.70" y="471.80" font-size="3.9" text-anchor="end" fill="#333">-1</text>
<text x="166.00" y="402.40" font-size="6.2" text-anchor="middle" fill="#111" stroke="#111" stroke-width="0.174" transform="rotate(-90 166.00 402.40)" textLength="43.3" lengthAdjust="spacingAndGlyphs">Enrichment score (ES)</text>
<text x="170.50" y="458.80" font-size="6.2" text-anchor="middle" fill="#111" stroke="#111" stroke-width="0.174" transform="rotate(-90 170.50 458.80)" textLength="64" lengthAdjust="spacingAndGlyphs">Ranked list metric (Signal2Noise)</text>
<text x="180.10" y="483.00" font-size="4.6" text-anchor="end" fill="#555" stroke="#555" stroke-width="0.129" transform="rotate(-45 180.10 483.00)">0</text>
<text x="192.30" y="483.00" font-size="4.6" text-anchor="end" fill="#555" stroke="#555" stroke-width="0.129" transform="rotate(-45 192.30 483.00)" textLength="11.5" lengthAdjust="spacingAndGlyphs">2,500</text>
<text x="204.50" y="483.00" font-size="4.6" text-anchor="end" fill="#555" stroke="#555" stroke-width="0.129" transform="rotate(-45 204.50 483.00)" textLength="11.5" lengthAdjust="spacingAndGlyphs">5,000</text>
<text x="216.70" y="483.00" font-size="4.6" text-anchor="end" fill="#555" stroke="#555" stroke-width="0.129" transform="rotate(-45 216.70 483.00)" textLength="11.5" lengthAdjust="spacingAndGlyphs">7,500</text>
<text x="228.90" y="483.00" font-size="4.6" text-anchor="end" fill="#555" stroke="#555" stroke-width="0.129" transform="rotate(-45 228.90 483.00)" textLength="13.799999999999999" lengthAdjust="spacingAndGlyphs">10,000</text>
<text x="241.10" y="483.00" font-size="4.6" text-anchor="end" fill="#555" stroke="#555" stroke-width="0.129" transform="rotate(-45 241.10 483.00)" textLength="13.799999999999999" lengthAdjust="spacingAndGlyphs">12,500</text>
<text x="253.30" y="483.00" font-size="4.6" text-anchor="end" fill="#555" stroke="#555" stroke-width="0.129" transform="rotate(-45 253.30 483.00)" textLength="13.799999999999999" lengthAdjust="spacingAndGlyphs">15,000</text>
<text x="265.50" y="483.00" font-size="4.6" text-anchor="end" fill="#555" stroke="#555" stroke-width="0.129" transform="rotate(-45 265.50 483.00)" textLength="13.799999999999999" lengthAdjust="spacingAndGlyphs">17,500</text>
<text x="277.70" y="483.00" font-size="4.6" text-anchor="end" fill="#555" stroke="#555" stroke-width="0.129" transform="rotate(-45 277.70 483.00)" textLength="13.799999999999999" lengthAdjust="spacingAndGlyphs">20,000</text>
<text x="226.10" y="500.40" font-size="6.5" text-anchor="middle" fill="#111" stroke="#111" stroke-width="0.182" textLength="45.6" lengthAdjust="spacingAndGlyphs">Rank in ordered dataset</text>
<text x="247.00" y="506.00" font-size="3.2" text-anchor="start" fill="#111" textLength="23.2" lengthAdjust="spacingAndGlyphs">NOM P-value = 0.060</text>
<text x="247.00" y="510.00" font-size="3.2" text-anchor="start" fill="#111" textLength="23.2" lengthAdjust="spacingAndGlyphs">FDR Q-value = 0.111</text>
<line x1="186.0" y1="513.8" x2="190.2" y2="513.8" stroke="#78b836" stroke-width="0.9"/>
<text x="192.30" y="514.80" font-size="3.0" text-anchor="start" fill="#444" textLength="23.8" lengthAdjust="spacingAndGlyphs">Enrichment profile</text>
<line x1="224.0" y1="513.8" x2="227.0" y2="513.8" stroke="#777" stroke-width="0.5"/>
<text x="228.50" y="514.80" font-size="3.0" text-anchor="start" fill="#444" textLength="4.2" lengthAdjust="spacingAndGlyphs">Hits</text>
<line x1="245.5" y1="513.8" x2="248.5" y2="513.8" stroke="#ccc" stroke-width="0.5"/>
<text x="250.00" y="514.80" font-size="3.0" text-anchor="start" fill="#444" textLength="28.9" lengthAdjust="spacingAndGlyphs">Ranking metric scores</text>
<text x="6.60" y="529.80" font-size="12.3" text-anchor="start" fill="#000" font-weight="bold" stroke="#000" stroke-width="0.45">E</text>
<text x="86.45" y="528.20" font-size="4.4" text-anchor="middle" fill="#111" font-weight="bold" textLength="86.7" lengthAdjust="spacingAndGlyphs" stroke="#111" stroke-width="0.12">Enrichment plot: BIOCARTA_NFKB_PATHWAY</text>
<rect x="34.2" y="532.2" width="105.10000000000001" height="46.59999999999991" fill="#fff" stroke="#d6d6d6" stroke-width="0.6"/>
<line x1="34.2" y1="569.32" x2="139.3" y2="569.32" stroke="#f0f0f0" stroke-width="0.5"/>
<line x1="34.2" y1="561.64" x2="139.3" y2="561.64" stroke="#f0f0f0" stroke-width="0.5"/>
<line x1="34.2" y1="553.96" x2="139.3" y2="553.96" stroke="#f0f0f0" stroke-width="0.5"/>
<line x1="34.2" y1="546.28" x2="139.3" y2="546.28" stroke="#f0f0f0" stroke-width="0.5"/>
<line x1="34.2" y1="538.60" x2="139.3" y2="538.60" stroke="#f0f0f0" stroke-width="0.5"/>
<line x1="46.90" y1="532.2" x2="46.90" y2="578.8" stroke="#f0f0f0" stroke-width="0.5"/>
<line x1="58.90" y1="532.2" x2="58.90" y2="578.8" stroke="#f0f0f0" stroke-width="0.5"/>
<line x1="70.90" y1="532.2" x2="70.90" y2="578.8" stroke="#f0f0f0" stroke-width="0.5"/>
<line x1="82.90" y1="532.2" x2="82.90" y2="578.8" stroke="#f0f0f0" stroke-width="0.5"/>
<line x1="94.90" y1="532.2" x2="94.90" y2="578.8" stroke="#f0f0f0" stroke-width="0.5"/>
<line x1="106.90" y1="532.2" x2="106.90" y2="578.8" stroke="#f0f0f0" stroke-width="0.5"/>
<line x1="118.90" y1="532.2" x2="118.90" y2="578.8" stroke="#f0f0f0" stroke-width="0.5"/>
<line x1="130.90" y1="532.2" x2="130.90" y2="578.8" stroke="#f0f0f0" stroke-width="0.5"/>
<line x1="34.2" y1="577.0" x2="139.3" y2="577.0" stroke="#c8c8c8" stroke-width="0.6"/>
<text x="32.70" y="578.30" font-size="3.9" text-anchor="end" fill="#333">0.0</text>
<text x="32.70" y="570.62" font-size="3.9" text-anchor="end" fill="#333">0.1</text>
<text x="32.70" y="562.94" font-size="3.9" text-anchor="end" fill="#333">0.2</text>
<text x="32.70" y="555.26" font-size="3.9" text-anchor="end" fill="#333">0.3</text>
<text x="32.70" y="547.58" font-size="3.9" text-anchor="end" fill="#333">0.4</text>
<text x="32.70" y="539.90" font-size="3.9" text-anchor="end" fill="#333">0.5</text>
<polyline points="34.20,577.00 34.70,565.00 35.30,564.00 35.90,555.50 36.80,548.00 39.50,550.20 40.60,545.00 41.60,539.60 42.30,536.50 43.80,538.00 45.20,535.40 49.00,538.60 50.50,534.80 52.80,536.50 54.30,535.00 55.00,535.40 55.80,535.00 58.60,536.00 62.80,539.00 64.90,539.60 78.70,549.20 81.80,550.20 86.00,553.40 87.10,553.80 99.80,563.50 101.50,558.00 107.20,562.30 108.30,560.20 118.80,568.20 119.90,564.40 134.70,576.70" fill="none" stroke="#78b836" stroke-width="1.25" stroke-linejoin="round"/>
<rect x="34.2" y="579.80" width="105.10000000000001" height="14.90" fill="#fff" stroke="#d6d6d6" stroke-width="0.5"/>
<line x1="34.90" y1="579.9" x2="34.90" y2="594.7" stroke="#707070" stroke-width="0.65"/>
<line x1="39.50" y1="579.9" x2="39.50" y2="594.7" stroke="#707070" stroke-width="0.65"/>
<line x1="41.00" y1="579.9" x2="41.00" y2="594.7" stroke="#707070" stroke-width="0.65"/>
<line x1="42.70" y1="579.9" x2="42.70" y2="594.7" stroke="#707070" stroke-width="0.65"/>
<line x1="45.90" y1="579.9" x2="45.90" y2="594.7" stroke="#707070" stroke-width="0.65"/>
<line x1="49.00" y1="579.9" x2="49.00" y2="594.7" stroke="#707070" stroke-width="0.65"/>
<line x1="50.10" y1="579.9" x2="50.10" y2="594.7" stroke="#707070" stroke-width="0.65"/>
<line x1="53.30" y1="579.9" x2="53.30" y2="594.7" stroke="#707070" stroke-width="0.65"/>
<line x1="55.00" y1="579.9" x2="55.00" y2="594.7" stroke="#707070" stroke-width="0.65"/>
<line x1="56.40" y1="579.9" x2="56.40" y2="594.7" stroke="#707070" stroke-width="0.65"/>
<line x1="62.80" y1="579.9" x2="62.80" y2="594.7" stroke="#707070" stroke-width="0.65"/>
<line x1="63.80" y1="579.9" x2="63.80" y2="594.7" stroke="#707070" stroke-width="0.65"/>
<line x1="64.90" y1="579.9" x2="64.90" y2="594.7" stroke="#707070" stroke-width="0.65"/>
<line x1="71.30" y1="579.9" x2="71.30" y2="594.7" stroke="#707070" stroke-width="0.65"/>
<line x1="79.70" y1="579.9" x2="79.70" y2="594.7" stroke="#707070" stroke-width="0.65"/>
<line x1="86.10" y1="579.9" x2="86.10" y2="594.7" stroke="#707070" stroke-width="0.65"/>
<line x1="99.80" y1="579.9" x2="99.80" y2="594.7" stroke="#707070" stroke-width="0.65"/>
<line x1="100.90" y1="579.9" x2="100.90" y2="594.7" stroke="#707070" stroke-width="0.65"/>
<line x1="107.20" y1="579.9" x2="107.20" y2="594.7" stroke="#707070" stroke-width="0.65"/>
<line x1="118.90" y1="579.9" x2="118.90" y2="594.7" stroke="#707070" stroke-width="0.65"/>
<rect x="34.30" y="594.7" width="12.75" height="3.8999999999999773" fill="#d42c3a"/>
<rect x="47.00" y="594.7" width="12.65" height="3.8999999999999773" fill="#dc6670"/>
<rect x="59.60" y="594.7" width="9.55" height="3.8999999999999773" fill="#ecbcd8"/>
<rect x="69.10" y="594.7" width="11.75" height="3.8999999999999773" fill="#dedcf2"/>
<rect x="80.80" y="594.7" width="12.75" height="3.8999999999999773" fill="#cac4ea"/>
<rect x="93.50" y="594.7" width="12.75" height="3.8999999999999773" fill="#8080c8"/>
<rect x="106.20" y="594.7" width="21.15" height="3.8999999999999773" fill="#4a48a8"/>
<rect x="127.30" y="594.7" width="7.45" height="3.8999999999999773" fill="#22228e"/>
<rect x="34.2" y="598.6" width="105.10000000000001" height="32.60000000000002" fill="#fff" stroke="#d6d6d6" stroke-width="0.5"/>
<line x1="46.90" y1="598.6" x2="46.90" y2="631.2" stroke="#f2f2f2" stroke-width="0.5"/>
<line x1="58.90" y1="598.6" x2="58.90" y2="631.2" stroke="#f2f2f2" stroke-width="0.5"/>
<line x1="70.90" y1="598.6" x2="70.90" y2="631.2" stroke="#f2f2f2" stroke-width="0.5"/>
<line x1="82.90" y1="598.6" x2="82.90" y2="631.2" stroke="#f2f2f2" stroke-width="0.5"/>
<line x1="94.90" y1="598.6" x2="94.90" y2="631.2" stroke="#f2f2f2" stroke-width="0.5"/>
<line x1="106.90" y1="598.6" x2="106.90" y2="631.2" stroke="#f2f2f2" stroke-width="0.5"/>
<line x1="118.90" y1="598.6" x2="118.90" y2="631.2" stroke="#f2f2f2" stroke-width="0.5"/>
<line x1="130.90" y1="598.6" x2="130.90" y2="631.2" stroke="#f2f2f2" stroke-width="0.5"/>
<text x="34.60" y="601.20" font-size="2.6" text-anchor="start" fill="#d02828" textLength="36" lengthAdjust="spacingAndGlyphs">BPDCN (positively correlated)</text>
<path d="M34.30,619.20 L34.30,609.17 L34.93,610.87 L35.55,611.91 L36.18,612.59 L36.81,613.08 L37.44,613.44 L38.06,613.73 L38.69,613.99 L39.32,614.21 L39.95,614.41 L40.57,614.59 L41.20,614.76 L41.83,614.92 L42.46,615.07 L43.08,615.22 L43.71,615.35 L44.34,615.49 L44.97,615.61 L45.59,615.73 L46.22,615.85 L46.85,615.97 L47.48,616.08 L48.10,616.19 L48.73,616.29 L49.36,616.39 L49.99,616.50 L50.61,616.60 L51.24,616.69 L51.87,616.79 L52.50,616.88 L53.12,616.98 L53.75,617.07 L54.38,617.16 L55.01,617.25 L55.63,617.34 L56.26,617.43 L56.89,617.52 L57.52,617.61 L58.14,617.69 L58.77,617.78 L59.40,617.86 L60.03,617.95 L60.66,618.03 L61.28,618.11 L61.91,618.20 L62.54,618.28 L63.16,618.36 L63.79,618.44 L64.42,618.52 L65.05,618.60 L65.67,618.67 L66.30,618.75 L66.93,618.82 L67.56,618.90 L68.19,618.97 L68.81,619.04 L69.44,619.11 L70.07,619.17 L70.69,619.21 L71.32,619.23 L71.95,619.25 L72.58,619.28 L73.20,619.30 L73.83,619.33 L74.46,619.36 L75.09,619.40 L75.71,619.43 L76.34,619.46 L76.97,619.49 L77.60,619.53 L78.22,619.56 L78.85,619.60 L79.48,619.64 L80.11,619.67 L80.73,619.71 L81.36,619.75 L81.99,619.78 L82.62,619.82 L83.24,619.86 L83.87,619.90 L84.50,619.94 L85.13,619.98 L85.75,620.02 L86.38,620.06 L87.01,620.10 L87.64,620.14 L88.26,620.18 L88.89,620.23 L89.52,620.27 L90.15,620.31 L90.77,620.35 L91.40,620.40 L92.03,620.44 L92.66,620.48 L93.28,620.52 L93.91,620.57 L94.54,620.61 L95.17,620.66 L95.79,620.70 L96.42,620.75 L97.05,620.79 L97.68,620.84 L98.30,620.88 L98.93,620.93 L99.56,620.97 L100.19,621.02 L100.81,621.07 L101.44,621.11 L102.07,621.16 L102.70,621.20 L103.32,621.25 L103.95,621.30 L104.58,621.35 L105.21,621.39 L105.83,621.44 L106.46,621.49 L107.09,621.54 L107.72,621.58 L108.34,621.63 L108.97,621.68 L109.60,621.73 L110.23,621.78 L110.85,621.83 L111.48,621.88 L112.11,621.93 L112.74,621.98 L113.36,622.02 L113.99,622.07 L114.62,622.12 L115.25,622.17 L115.87,622.22 L116.50,622.27 L117.13,622.32 L117.76,622.37 L118.38,622.43 L119.01,622.48 L119.64,622.53 L120.27,622.58 L120.89,622.63 L121.52,622.68 L122.15,622.73 L122.78,622.79 L123.40,622.84 L124.03,622.89 L124.66,622.95 L125.29,623.00 L125.91,623.06 L126.54,623.12 L127.17,623.18 L127.80,623.25 L128.42,623.33 L129.05,623.43 L129.68,623.54 L130.31,623.69 L130.94,623.89 L131.56,624.16 L132.19,624.54 L132.82,625.10 L133.44,625.92 L134.07,627.13 L134.70,628.94 L134.70,619.20 Z" fill="#cfcfcf" stroke="#9a9a9a" stroke-width="0.35"/>
<line x1="34.2" y1="619.2" x2="139.3" y2="619.2" stroke="#b8b8b8" stroke-width="0.4"/>
<text x="70.80" y="615.60" font-size="3.0" text-anchor="middle" fill="#222" textLength="19.5" lengthAdjust="spacingAndGlyphs">Zero cross at 7411</text>
<text x="104.20" y="628.80" font-size="3.0" text-anchor="middle" fill="#3030b0" textLength="34.5" lengthAdjust="spacingAndGlyphs">T-ALL (negatively correlated)</text>
<text x="32.40" y="603.31" font-size="3.9" text-anchor="end" fill="#333">3</text>
<text x="32.40" y="609.04" font-size="3.9" text-anchor="end" fill="#333">2</text>
<text x="32.40" y="614.77" font-size="3.9" text-anchor="end" fill="#333">1</text>
<text x="32.40" y="620.50" font-size="3.9" text-anchor="end" fill="#333">0</text>
<text x="32.40" y="626.23" font-size="3.9" text-anchor="end" fill="#333">-1</text>
<text x="32.40" y="631.96" font-size="3.9" text-anchor="end" fill="#333">-2</text>
<text x="22.90" y="553.90" font-size="6.2" text-anchor="middle" fill="#111" stroke="#111" stroke-width="0.174" transform="rotate(-90 22.90 553.90)" textLength="43.3" lengthAdjust="spacingAndGlyphs">Enrichment score (ES)</text>
<text x="26.10" y="610.80" font-size="6.2" text-anchor="middle" fill="#111" stroke="#111" stroke-width="0.174" transform="rotate(-90 26.10 610.80)" textLength="64" lengthAdjust="spacingAndGlyphs">Ranked list metric (Signal2Noise)</text>
<text x="35.90" y="635.00" font-size="4.6" text-anchor="end" fill="#555" stroke="#555" stroke-width="0.129" transform="rotate(-45 35.90 635.00)">0</text>
<text x="47.90" y="635.00" font-size="4.6" text-anchor="end" fill="#555" stroke="#555" stroke-width="0.129" transform="rotate(-45 47.90 635.00)" textLength="11.5" lengthAdjust="spacingAndGlyphs">2,500</text>
<text x="59.90" y="635.00" font-size="4.6" text-anchor="end" fill="#555" stroke="#555" stroke-width="0.129" transform="rotate(-45 59.90 635.00)" textLength="11.5" lengthAdjust="spacingAndGlyphs">5,000</text>
<text x="71.90" y="635.00" font-size="4.6" text-anchor="end" fill="#555" stroke="#555" stroke-width="0.129" transform="rotate(-45 71.90 635.00)" textLength="11.5" lengthAdjust="spacingAndGlyphs">7,500</text>
<text x="83.90" y="635.00" font-size="4.6" text-anchor="end" fill="#555" stroke="#555" stroke-width="0.129" transform="rotate(-45 83.90 635.00)" textLength="13.799999999999999" lengthAdjust="spacingAndGlyphs">10,000</text>
<text x="95.90" y="635.00" font-size="4.6" text-anchor="end" fill="#555" stroke="#555" stroke-width="0.129" transform="rotate(-45 95.90 635.00)" textLength="13.799999999999999" lengthAdjust="spacingAndGlyphs">12,500</text>
<text x="107.90" y="635.00" font-size="4.6" text-anchor="end" fill="#555" stroke="#555" stroke-width="0.129" transform="rotate(-45 107.90 635.00)" textLength="13.799999999999999" lengthAdjust="spacingAndGlyphs">15,000</text>
<text x="119.90" y="635.00" font-size="4.6" text-anchor="end" fill="#555" stroke="#555" stroke-width="0.129" transform="rotate(-45 119.90 635.00)" textLength="13.799999999999999" lengthAdjust="spacingAndGlyphs">17,500</text>
<text x="131.90" y="635.00" font-size="4.6" text-anchor="end" fill="#555" stroke="#555" stroke-width="0.129" transform="rotate(-45 131.90 635.00)" textLength="13.799999999999999" lengthAdjust="spacingAndGlyphs">20,000</text>
<text x="81.80" y="652.90" font-size="6.5" text-anchor="middle" fill="#111" stroke="#111" stroke-width="0.182" textLength="45.6" lengthAdjust="spacingAndGlyphs">Rank in ordered dataset</text>
<text x="102.70" y="658.60" font-size="3.2" text-anchor="start" fill="#111" textLength="23.2" lengthAdjust="spacingAndGlyphs">NOM P-value = 0.053</text>
<text x="102.70" y="662.60" font-size="3.2" text-anchor="start" fill="#111" textLength="23.2" lengthAdjust="spacingAndGlyphs">FDR Q-value = 0.151</text>
<line x1="41.7" y1="668.5" x2="45.900000000000006" y2="668.5" stroke="#78b836" stroke-width="0.9"/>
<text x="48.00" y="669.50" font-size="3.0" text-anchor="start" fill="#444" textLength="23.8" lengthAdjust="spacingAndGlyphs">Enrichment profile</text>
<line x1="79.7" y1="668.5" x2="82.7" y2="668.5" stroke="#777" stroke-width="0.5"/>
<text x="84.20" y="669.50" font-size="3.0" text-anchor="start" fill="#444" textLength="4.2" lengthAdjust="spacingAndGlyphs">Hits</text>
<line x1="101.2" y1="668.5" x2="104.2" y2="668.5" stroke="#ccc" stroke-width="0.5"/>
<text x="105.70" y="669.50" font-size="3.0" text-anchor="start" fill="#444" textLength="28.9" lengthAdjust="spacingAndGlyphs">Ranking metric scores</text>
<text x="149.70" y="527.90" font-size="12.0" text-anchor="start" fill="#000" font-weight="bold" stroke="#000" stroke-width="0.45">F</text>
<text x="228.80" y="526.80" font-size="4.4" text-anchor="middle" fill="#111" font-weight="bold" textLength="90" lengthAdjust="spacingAndGlyphs" stroke="#111" stroke-width="0.12">Enrichment plot: MOTTON_RUNX_TARGETS_UP</text>
<rect x="178.0" y="529.7" width="104.60000000000002" height="45.799999999999955" fill="#fff" stroke="#d6d6d6" stroke-width="0.6"/>
<line x1="178.0" y1="565.31" x2="282.6" y2="565.31" stroke="#f0f0f0" stroke-width="0.5"/>
<line x1="178.0" y1="557.37" x2="282.6" y2="557.37" stroke="#f0f0f0" stroke-width="0.5"/>
<line x1="178.0" y1="549.43" x2="282.6" y2="549.43" stroke="#f0f0f0" stroke-width="0.5"/>
<line x1="178.0" y1="541.49" x2="282.6" y2="541.49" stroke="#f0f0f0" stroke-width="0.5"/>
<line x1="178.0" y1="533.55" x2="282.6" y2="533.55" stroke="#f0f0f0" stroke-width="0.5"/>
<line x1="190.90" y1="529.7" x2="190.90" y2="575.5" stroke="#f0f0f0" stroke-width="0.5"/>
<line x1="203.10" y1="529.7" x2="203.10" y2="575.5" stroke="#f0f0f0" stroke-width="0.5"/>
<line x1="215.30" y1="529.7" x2="215.30" y2="575.5" stroke="#f0f0f0" stroke-width="0.5"/>
<line x1="227.50" y1="529.7" x2="227.50" y2="575.5" stroke="#f0f0f0" stroke-width="0.5"/>
<line x1="239.70" y1="529.7" x2="239.70" y2="575.5" stroke="#f0f0f0" stroke-width="0.5"/>
<line x1="251.90" y1="529.7" x2="251.90" y2="575.5" stroke="#f0f0f0" stroke-width="0.5"/>
<line x1="264.10" y1="529.7" x2="264.10" y2="575.5" stroke="#f0f0f0" stroke-width="0.5"/>
<line x1="276.30" y1="529.7" x2="276.30" y2="575.5" stroke="#f0f0f0" stroke-width="0.5"/>
<line x1="178.0" y1="573.25" x2="282.6" y2="573.25" stroke="#c8c8c8" stroke-width="0.6"/>
<text x="176.50" y="574.55" font-size="3.9" text-anchor="end" fill="#333">0.0</text>
<text x="176.50" y="566.61" font-size="3.9" text-anchor="end" fill="#333">0.1</text>
<text x="176.50" y="558.67" font-size="3.9" text-anchor="end" fill="#333">0.2</text>
<text x="176.50" y="550.73" font-size="3.9" text-anchor="end" fill="#333">0.3</text>
<text x="176.50" y="542.79" font-size="3.9" text-anchor="end" fill="#333">0.4</text>
<text x="176.50" y="534.85" font-size="3.9" text-anchor="end" fill="#333">0.5</text>
<polyline points="178.00,540.30 178.80,541.90 179.70,532.00 191.90,541.90 192.60,539.60 218.50,559.70 221.90,561.10 235.80,570.30 237.40,570.80 238.80,565.70 240.40,568.50 242.70,566.60 250.30,572.60 251.20,569.60 253.50,572.60 256.50,567.30 260.50,570.80 262.30,567.30 271.50,574.90 273.20,569.20 278.00,573.50" fill="none" stroke="#78b836" stroke-width="1.25" stroke-linejoin="round"/>
<rect x="178.0" y="576.50" width="104.60000000000002" height="16.70" fill="#fff" stroke="#d6d6d6" stroke-width="0.5"/>
<line x1="179.20" y1="577.0" x2="179.20" y2="593.0" stroke="#707070" stroke-width="0.65"/>
<line x1="192.40" y1="577.0" x2="192.40" y2="593.0" stroke="#707070" stroke-width="0.65"/>
<line x1="211.00" y1="577.0" x2="211.00" y2="593.0" stroke="#707070" stroke-width="0.65"/>
<line x1="212.00" y1="577.0" x2="212.00" y2="593.0" stroke="#707070" stroke-width="0.65"/>
<line x1="216.20" y1="577.0" x2="216.20" y2="593.0" stroke="#707070" stroke-width="0.65"/>
<line x1="218.00" y1="577.0" x2="218.00" y2="593.0" stroke="#707070" stroke-width="0.65"/>
<line x1="219.60" y1="577.0" x2="219.60" y2="593.0" stroke="#707070" stroke-width="0.65"/>
<line x1="221.20" y1="577.0" x2="221.20" y2="593.0" stroke="#707070" stroke-width="0.65"/>
<line x1="236.90" y1="577.0" x2="236.90" y2="593.0" stroke="#707070" stroke-width="0.65"/>
<line x1="237.60" y1="577.0" x2="237.60" y2="593.0" stroke="#707070" stroke-width="0.65"/>
<line x1="238.30" y1="577.0" x2="238.30" y2="593.0" stroke="#707070" stroke-width="0.65"/>
<line x1="239.20" y1="577.0" x2="239.20" y2="593.0" stroke="#707070" stroke-width="0.65"/>
<line x1="242.70" y1="577.0" x2="242.70" y2="593.0" stroke="#707070" stroke-width="0.65"/>
<line x1="250.30" y1="577.0" x2="250.30" y2="593.0" stroke="#707070" stroke-width="0.65"/>
<line x1="254.90" y1="577.0" x2="254.90" y2="593.0" stroke="#707070" stroke-width="0.65"/>
<line x1="255.80" y1="577.0" x2="255.80" y2="593.0" stroke="#707070" stroke-width="0.65"/>
<line x1="262.30" y1="577.0" x2="262.30" y2="593.0" stroke="#707070" stroke-width="0.65"/>
<line x1="272.70" y1="577.0" x2="272.70" y2="593.0" stroke="#707070" stroke-width="0.65"/>
<rect x="177.40" y="593.2" width="15.35" height="3.8999999999999773" fill="#d42c3a"/>
<rect x="192.70" y="593.2" width="10.25" height="3.8999999999999773" fill="#dc6670"/>
<rect x="202.90" y="593.2" width="9.35" height="3.8999999999999773" fill="#ecbcd8"/>
<rect x="212.20" y="593.2" width="12.05" height="3.8999999999999773" fill="#dedcf2"/>
<rect x="224.20" y="593.2" width="12.65" height="3.8999999999999773" fill="#cac4ea"/>
<rect x="236.80" y="593.2" width="13.05" height="3.8999999999999773" fill="#8080c8"/>
<rect x="249.80" y="593.2" width="21.15" height="3.8999999999999773" fill="#4a48a8"/>
<rect x="270.90" y="593.2" width="7.25" height="3.8999999999999773" fill="#22228e"/>
<rect x="178.0" y="597.1" width="104.60000000000002" height="32.39999999999998" fill="#fff" stroke="#d6d6d6" stroke-width="0.5"/>
<line x1="190.90" y1="597.1" x2="190.90" y2="629.5" stroke="#f2f2f2" stroke-width="0.5"/>
<line x1="203.10" y1="597.1" x2="203.10" y2="629.5" stroke="#f2f2f2" stroke-width="0.5"/>
<line x1="215.30" y1="597.1" x2="215.30" y2="629.5" stroke="#f2f2f2" stroke-width="0.5"/>
<line x1="227.50" y1="597.1" x2="227.50" y2="629.5" stroke="#f2f2f2" stroke-width="0.5"/>
<line x1="239.70" y1="597.1" x2="239.70" y2="629.5" stroke="#f2f2f2" stroke-width="0.5"/>
<line x1="251.90" y1="597.1" x2="251.90" y2="629.5" stroke="#f2f2f2" stroke-width="0.5"/>
<line x1="264.10" y1="597.1" x2="264.10" y2="629.5" stroke="#f2f2f2" stroke-width="0.5"/>
<line x1="276.30" y1="597.1" x2="276.30" y2="629.5" stroke="#f2f2f2" stroke-width="0.5"/>
<text x="177.70" y="599.70" font-size="2.6" text-anchor="start" fill="#d02828" textLength="35" lengthAdjust="spacingAndGlyphs">BPDCN (positively correlated)</text>
<path d="M177.40,617.10 L177.40,607.30 L178.03,608.96 L178.66,609.97 L179.29,610.64 L179.92,611.11 L180.55,611.47 L181.18,611.76 L181.81,612.00 L182.44,612.22 L183.06,612.41 L183.69,612.59 L184.32,612.76 L184.95,612.92 L185.58,613.07 L186.21,613.21 L186.84,613.34 L187.47,613.47 L188.10,613.59 L188.73,613.71 L189.36,613.83 L189.99,613.94 L190.62,614.05 L191.25,614.15 L191.88,614.26 L192.50,614.36 L193.13,614.46 L193.76,614.55 L194.39,614.65 L195.02,614.74 L195.65,614.84 L196.28,614.93 L196.91,615.02 L197.54,615.11 L198.17,615.20 L198.80,615.29 L199.43,615.37 L200.06,615.46 L200.69,615.54 L201.32,615.63 L201.95,615.71 L202.58,615.79 L203.20,615.88 L203.83,615.96 L204.46,616.04 L205.09,616.12 L205.72,616.20 L206.35,616.28 L206.98,616.36 L207.61,616.43 L208.24,616.51 L208.87,616.58 L209.50,616.66 L210.13,616.73 L210.76,616.80 L211.39,616.87 L212.02,616.94 L212.65,617.01 L213.27,617.07 L213.90,617.11 L214.53,617.13 L215.16,617.17 L215.79,617.20 L216.42,617.23 L217.05,617.27 L217.68,617.31 L218.31,617.35 L218.94,617.39 L219.57,617.43 L220.20,617.48 L220.83,617.52 L221.46,617.57 L222.09,617.61 L222.72,617.66 L223.34,617.71 L223.97,617.75 L224.60,617.80 L225.23,617.85 L225.86,617.90 L226.49,617.95 L227.12,618.00 L227.75,618.05 L228.38,618.10 L229.01,618.15 L229.64,618.20 L230.27,618.26 L230.90,618.31 L231.53,618.36 L232.16,618.42 L232.79,618.47 L233.41,618.52 L234.04,618.58 L234.67,618.63 L235.30,618.69 L235.93,618.74 L236.56,618.80 L237.19,618.86 L237.82,618.91 L238.45,618.97 L239.08,619.03 L239.71,619.08 L240.34,619.14 L240.97,619.20 L241.60,619.26 L242.23,619.32 L242.86,619.37 L243.48,619.43 L244.11,619.49 L244.74,619.55 L245.37,619.61 L246.00,619.67 L246.63,619.73 L247.26,619.79 L247.89,619.85 L248.52,619.91 L249.15,619.97 L249.78,620.04 L250.41,620.10 L251.04,620.16 L251.67,620.22 L252.30,620.28 L252.93,620.35 L253.55,620.41 L254.18,620.47 L254.81,620.53 L255.44,620.60 L256.07,620.66 L256.70,620.72 L257.33,620.79 L257.96,620.85 L258.59,620.91 L259.22,620.98 L259.85,621.04 L260.48,621.11 L261.11,621.17 L261.74,621.24 L262.37,621.30 L263.00,621.37 L263.62,621.43 L264.25,621.50 L264.88,621.57 L265.51,621.63 L266.14,621.70 L266.77,621.76 L267.40,621.83 L268.03,621.90 L268.66,621.97 L269.29,622.04 L269.92,622.11 L270.55,622.19 L271.18,622.27 L271.81,622.36 L272.44,622.46 L273.06,622.57 L273.69,622.71 L274.32,622.89 L274.95,623.13 L275.58,623.45 L276.21,623.90 L276.84,624.55 L277.47,625.50 L278.10,626.90 L278.10,617.10 Z" fill="#cfcfcf" stroke="#9a9a9a" stroke-width="0.35"/>
<line x1="178.0" y1="617.1" x2="282.6" y2="617.1" stroke="#b8b8b8" stroke-width="0.4"/>
<text x="210.00" y="614.00" font-size="3.0" text-anchor="middle" fill="#222" textLength="14" lengthAdjust="spacingAndGlyphs">Zero cross at 7411</text>
<text x="243.10" y="626.80" font-size="3.0" text-anchor="middle" fill="#3030b0" textLength="26.2" lengthAdjust="spacingAndGlyphs">T-ALL (negatively correlated)</text>
<text x="176.20" y="601.60" font-size="3.9" text-anchor="end" fill="#333">3</text>
<text x="176.20" y="607.20" font-size="3.9" text-anchor="end" fill="#333">2</text>
<text x="176.20" y="612.80" font-size="3.9" text-anchor="end" fill="#333">1</text>
<text x="176.20" y="618.40" font-size="3.9" text-anchor="end" fill="#333">0</text>
<text x="176.20" y="624.00" font-size="3.9" text-anchor="end" fill="#333">-1</text>
<text x="176.20" y="629.60" font-size="3.9" text-anchor="end" fill="#333">-2</text>
<text x="166.10" y="549.90" font-size="6.2" text-anchor="middle" fill="#111" stroke="#111" stroke-width="0.174" transform="rotate(-90 166.10 549.90)" textLength="43.3" lengthAdjust="spacingAndGlyphs">Enrichment score (ES)</text>
<text x="169.60" y="606.50" font-size="6.2" text-anchor="middle" fill="#111" stroke="#111" stroke-width="0.174" transform="rotate(-90 169.60 606.50)" textLength="64" lengthAdjust="spacingAndGlyphs">Ranked list metric (Signal2Noise)</text>
<text x="179.70" y="633.50" font-size="4.6" text-anchor="end" fill="#555" stroke="#555" stroke-width="0.129" transform="rotate(-45 179.70 633.50)">0</text>
<text x="191.90" y="633.50" font-size="4.6" text-anchor="end" fill="#555" stroke="#555" stroke-width="0.129" transform="rotate(-45 191.90 633.50)" textLength="11.5" lengthAdjust="spacingAndGlyphs">2,500</text>
<text x="204.10" y="633.50" font-size="4.6" text-anchor="end" fill="#555" stroke="#555" stroke-width="0.129" transform="rotate(-45 204.10 633.50)" textLength="11.5" lengthAdjust="spacingAndGlyphs">5,000</text>
<text x="216.30" y="633.50" font-size="4.6" text-anchor="end" fill="#555" stroke="#555" stroke-width="0.129" transform="rotate(-45 216.30 633.50)" textLength="11.5" lengthAdjust="spacingAndGlyphs">7,500</text>
<text x="228.50" y="633.50" font-size="4.6" text-anchor="end" fill="#555" stroke="#555" stroke-width="0.129" transform="rotate(-45 228.50 633.50)" textLength="13.799999999999999" lengthAdjust="spacingAndGlyphs">10,000</text>
<text x="240.70" y="633.50" font-size="4.6" text-anchor="end" fill="#555" stroke="#555" stroke-width="0.129" transform="rotate(-45 240.70 633.50)" textLength="13.799999999999999" lengthAdjust="spacingAndGlyphs">12,500</text>
<text x="252.90" y="633.50" font-size="4.6" text-anchor="end" fill="#555" stroke="#555" stroke-width="0.129" transform="rotate(-45 252.90 633.50)" textLength="13.799999999999999" lengthAdjust="spacingAndGlyphs">15,000</text>
<text x="265.10" y="633.50" font-size="4.6" text-anchor="end" fill="#555" stroke="#555" stroke-width="0.129" transform="rotate(-45 265.10 633.50)" textLength="13.799999999999999" lengthAdjust="spacingAndGlyphs">17,500</text>
<text x="277.30" y="633.50" font-size="4.6" text-anchor="end" fill="#555" stroke="#555" stroke-width="0.129" transform="rotate(-45 277.30 633.50)" textLength="13.799999999999999" lengthAdjust="spacingAndGlyphs">20,000</text>
<text x="225.60" y="650.40" font-size="6.5" text-anchor="middle" fill="#111" stroke="#111" stroke-width="0.182" textLength="45.6" lengthAdjust="spacingAndGlyphs">Rank in ordered dataset</text>
<text x="246.50" y="658.50" font-size="3.2" text-anchor="start" fill="#111" textLength="23.2" lengthAdjust="spacingAndGlyphs">NOM P-value = 0.066</text>
<text x="246.50" y="662.50" font-size="3.2" text-anchor="start" fill="#111" textLength="23.2" lengthAdjust="spacingAndGlyphs">FDR Q-value = 0.198</text>
<line x1="185.5" y1="666.8" x2="189.7" y2="666.8" stroke="#78b836" stroke-width="0.9"/>
<text x="191.80" y="667.80" font-size="3.0" text-anchor="start" fill="#444" textLength="23.8" lengthAdjust="spacingAndGlyphs">Enrichment profile</text>
<line x1="223.5" y1="666.8" x2="226.5" y2="666.8" stroke="#777" stroke-width="0.5"/>
<text x="228.00" y="667.80" font-size="3.0" text-anchor="start" fill="#444" textLength="4.2" lengthAdjust="spacingAndGlyphs">Hits</text>
<line x1="245.0" y1="666.8" x2="248.0" y2="666.8" stroke="#ccc" stroke-width="0.5"/>
<text x="249.50" y="667.80" font-size="3.0" text-anchor="start" fill="#444" textLength="28.9" lengthAdjust="spacingAndGlyphs">Ranking metric scores</text>
</svg></body></html>
